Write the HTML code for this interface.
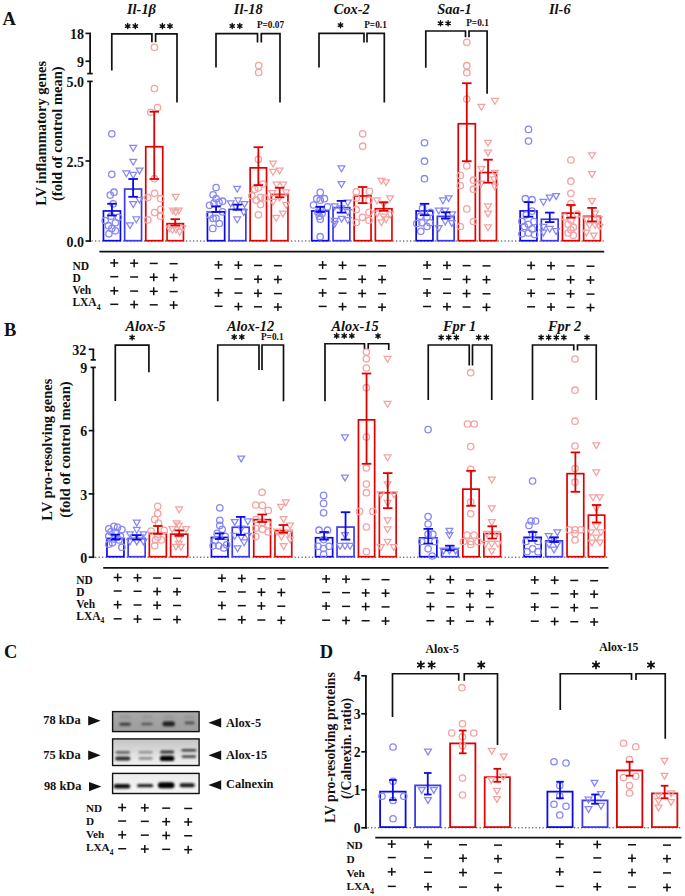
<!DOCTYPE html>
<html><head><meta charset="utf-8"><style>
html,body{margin:0;padding:0;background:#fff;}
body{width:685px;height:896px;overflow:hidden;}
svg{display:block;}
</style></head><body>
<svg width="685" height="896" viewBox="0 0 685 896">
<rect width="685" height="896" fill="#fff"/>
<text x="2.6" y="24.6" font-family='"Liberation Serif", serif' font-size="18.5" font-weight="bold" font-style="normal" text-anchor="start" fill="#111" >A</text>
<line x1="90.1" y1="81.4" x2="90.1" y2="241.85" stroke="#111" stroke-width="1.8" />
<line x1="90.1" y1="33.4" x2="90.1" y2="73.6" stroke="#111" stroke-width="1.8" />
<line x1="85.5" y1="241" x2="91" y2="241" stroke="#111" stroke-width="1.7" />
<line x1="85.5" y1="161" x2="91" y2="161" stroke="#111" stroke-width="1.7" />
<line x1="85.5" y1="33.4" x2="91" y2="33.4" stroke="#111" stroke-width="1.7" />
<line x1="85.5" y1="61.25" x2="91" y2="61.25" stroke="#111" stroke-width="1.7" />
<line x1="87.2" y1="73.6" x2="92.7" y2="73.6" stroke="#111" stroke-width="1.7" />
<line x1="87.2" y1="81.4" x2="92.7" y2="81.4" stroke="#111" stroke-width="1.7" />
<text x="84" y="246.79" font-family='"Liberation Serif", serif' font-size="14" font-weight="bold" font-style="normal" text-anchor="end" fill="#111" >0.0</text>
<text x="84" y="166.79" font-family='"Liberation Serif", serif' font-size="14" font-weight="bold" font-style="normal" text-anchor="end" fill="#111" >2.5</text>
<text x="84" y="87.19" font-family='"Liberation Serif", serif' font-size="14" font-weight="bold" font-style="normal" text-anchor="end" fill="#111" >5.0</text>
<text x="84" y="67.04" font-family='"Liberation Serif", serif' font-size="14" font-weight="bold" font-style="normal" text-anchor="end" fill="#111" >9</text>
<text x="84" y="39.19" font-family='"Liberation Serif", serif' font-size="14" font-weight="bold" font-style="normal" text-anchor="end" fill="#111" >18</text>
<text transform="translate(41,133.3) rotate(-90)" x="0" y="4.79" font-family='"Liberation Serif", serif' font-size="14.5" font-weight="bold" text-anchor="middle" fill="#111">LV inflammatory genes</text>
<text transform="translate(57.7,133.7) rotate(-90)" x="0" y="4.79" font-family='"Liberation Serif", serif' font-size="14.5" font-weight="bold" text-anchor="middle" fill="#111">(fold of control mean)</text>
<line x1="91.5" y1="241" x2="604" y2="241" stroke="#333" stroke-width="1.0" stroke-dasharray="1.3 2.2"/>
<line x1="99.4" y1="251.7" x2="604.2" y2="251.7" stroke="#111" stroke-width="1.8" />
<rect x="103.45" y="210.95" width="17" height="29.75" fill="none" stroke="#0a0ae6" stroke-width="1.7"/>
<rect x="124.65" y="189.05" width="16.9" height="51.65" fill="none" stroke="#3c3cee" stroke-width="1.7"/>
<rect x="145.75" y="146.75" width="17" height="93.95" fill="none" stroke="#e00000" stroke-width="1.7"/>
<rect x="167.05" y="223.65" width="16.4" height="17.05" fill="none" stroke="#e10a0a" stroke-width="1.7"/>
<circle cx="111.8" cy="133.8" r="3.2" stroke="#8787f5" stroke-width="1.3" fill="none"/>
<circle cx="111.8" cy="174.3" r="3.2" stroke="#8787f5" stroke-width="1.3" fill="none"/>
<circle cx="114" cy="192.2" r="3.2" stroke="#8787f5" stroke-width="1.3" fill="none"/>
<circle cx="110.3" cy="195.1" r="3.2" stroke="#8787f5" stroke-width="1.3" fill="none"/>
<circle cx="113.2" cy="203.8" r="3.2" stroke="#8787f5" stroke-width="1.3" fill="none"/>
<circle cx="105.2" cy="220.6" r="3.2" stroke="#8787f5" stroke-width="1.3" fill="none"/>
<circle cx="118.4" cy="217.3" r="3.2" stroke="#8787f5" stroke-width="1.3" fill="none"/>
<circle cx="111.1" cy="216.2" r="3.2" stroke="#8787f5" stroke-width="1.3" fill="none"/>
<circle cx="115.4" cy="222.8" r="3.2" stroke="#8787f5" stroke-width="1.3" fill="none"/>
<circle cx="108.4" cy="225.7" r="3.2" stroke="#8787f5" stroke-width="1.3" fill="none"/>
<circle cx="111.8" cy="228.6" r="3.2" stroke="#8787f5" stroke-width="1.3" fill="none"/>
<circle cx="115.4" cy="230.8" r="3.2" stroke="#8787f5" stroke-width="1.3" fill="none"/>
<circle cx="108.9" cy="233.8" r="3.2" stroke="#8787f5" stroke-width="1.3" fill="none"/>
<path d="M129.8 145.48H136.6L133.2 151.32Z" stroke="#8787f5" stroke-width="1.25" fill="none" stroke-linejoin="miter"/>
<path d="M129.8 159.28H136.6L133.2 165.12Z" stroke="#8787f5" stroke-width="1.25" fill="none" stroke-linejoin="miter"/>
<path d="M123 170.98H129.8L126.4 176.82Z" stroke="#8787f5" stroke-width="1.25" fill="none" stroke-linejoin="miter"/>
<path d="M129.8 172.48H136.6L133.2 178.32Z" stroke="#8787f5" stroke-width="1.25" fill="none" stroke-linejoin="miter"/>
<path d="M136.1 168.08H142.9L139.5 173.92Z" stroke="#8787f5" stroke-width="1.25" fill="none" stroke-linejoin="miter"/>
<path d="M136.1 197.28H142.9L139.5 203.12Z" stroke="#8787f5" stroke-width="1.25" fill="none" stroke-linejoin="miter"/>
<path d="M129.8 201.68H136.6L133.2 207.52Z" stroke="#8787f5" stroke-width="1.25" fill="none" stroke-linejoin="miter"/>
<path d="M132.9 216.98H139.7L136.3 222.82Z" stroke="#8787f5" stroke-width="1.25" fill="none" stroke-linejoin="miter"/>
<path d="M126.6 222.78H133.4L130 228.62Z" stroke="#8787f5" stroke-width="1.25" fill="none" stroke-linejoin="miter"/>
<circle cx="154.4" cy="47.3" r="3.2" stroke="#f4a2a2" stroke-width="1.3" fill="none"/>
<circle cx="154.4" cy="88.6" r="3.2" stroke="#f4a2a2" stroke-width="1.3" fill="none"/>
<circle cx="157.5" cy="107.6" r="3.2" stroke="#f4a2a2" stroke-width="1.3" fill="none"/>
<circle cx="150.8" cy="112.3" r="3.2" stroke="#f4a2a2" stroke-width="1.3" fill="none"/>
<circle cx="154.4" cy="178.7" r="3.2" stroke="#f4a2a2" stroke-width="1.3" fill="none"/>
<circle cx="154.6" cy="193.3" r="3.2" stroke="#f4a2a2" stroke-width="1.3" fill="none"/>
<circle cx="147.8" cy="197.6" r="3.2" stroke="#f4a2a2" stroke-width="1.3" fill="none"/>
<circle cx="160.7" cy="198.7" r="3.2" stroke="#f4a2a2" stroke-width="1.3" fill="none"/>
<circle cx="160.7" cy="209.4" r="3.2" stroke="#f4a2a2" stroke-width="1.3" fill="none"/>
<circle cx="154.6" cy="212.6" r="3.2" stroke="#f4a2a2" stroke-width="1.3" fill="none"/>
<circle cx="160.7" cy="216.2" r="3.2" stroke="#f4a2a2" stroke-width="1.3" fill="none"/>
<circle cx="147.8" cy="219.9" r="3.2" stroke="#f4a2a2" stroke-width="1.3" fill="none"/>
<path d="M172.3 194.38H179.1L175.7 200.22Z" stroke="#f4a2a2" stroke-width="1.25" fill="none" stroke-linejoin="miter"/>
<path d="M169.4 208.18H176.2L172.8 214.02Z" stroke="#f4a2a2" stroke-width="1.25" fill="none" stroke-linejoin="miter"/>
<path d="M175.5 208.18H182.3L178.9 214.02Z" stroke="#f4a2a2" stroke-width="1.25" fill="none" stroke-linejoin="miter"/>
<path d="M172.3 209.68H179.1L175.7 215.52Z" stroke="#f4a2a2" stroke-width="1.25" fill="none" stroke-linejoin="miter"/>
<path d="M166.1 225.98H172.9L169.5 231.82Z" stroke="#f4a2a2" stroke-width="1.25" fill="none" stroke-linejoin="miter"/>
<path d="M172.6 227.18H179.4L176 233.02Z" stroke="#f4a2a2" stroke-width="1.25" fill="none" stroke-linejoin="miter"/>
<path d="M178.9 225.98H185.7L182.3 231.82Z" stroke="#f4a2a2" stroke-width="1.25" fill="none" stroke-linejoin="miter"/>
<path d="M169 227.48H175.8L172.4 233.32Z" stroke="#f4a2a2" stroke-width="1.25" fill="none" stroke-linejoin="miter"/>
<path d="M176.3 229.38H183.1L179.7 235.22Z" stroke="#f4a2a2" stroke-width="1.25" fill="none" stroke-linejoin="miter"/>
<line x1="111.95" y1="203.8" x2="111.95" y2="215.5" stroke="#0a0ae6" stroke-width="1.8" />
<line x1="107.2" y1="203.8" x2="116.7" y2="203.8" stroke="#0a0ae6" stroke-width="1.8" />
<line x1="107.2" y1="215.5" x2="116.7" y2="215.5" stroke="#0a0ae6" stroke-width="1.8" />
<line x1="133.1" y1="179" x2="133.1" y2="196.8" stroke="#0a0ae6" stroke-width="1.8" />
<line x1="128.35" y1="179" x2="137.85" y2="179" stroke="#0a0ae6" stroke-width="1.8" />
<line x1="128.35" y1="196.8" x2="137.85" y2="196.8" stroke="#0a0ae6" stroke-width="1.8" />
<line x1="154.25" y1="111.7" x2="154.25" y2="179" stroke="#e00000" stroke-width="1.8" />
<line x1="149.5" y1="111.7" x2="159" y2="111.7" stroke="#e00000" stroke-width="1.8" />
<line x1="149.5" y1="179" x2="159" y2="179" stroke="#e00000" stroke-width="1.8" />
<line x1="175.25" y1="219.2" x2="175.25" y2="225.4" stroke="#e00000" stroke-width="1.8" />
<line x1="170.5" y1="219.2" x2="180" y2="219.2" stroke="#e00000" stroke-width="1.8" />
<line x1="170.5" y1="225.4" x2="180" y2="225.4" stroke="#e00000" stroke-width="1.8" />
<text x="141.5" y="14.35" font-family='"Liberation Serif", serif' font-size="14.4" font-weight="bold" font-style="italic" text-anchor="middle" fill="#111" >Il-1β</text>
<rect x="207.45" y="211.85" width="17.2" height="28.85" fill="none" stroke="#0a0ae6" stroke-width="1.7"/>
<rect x="229.05" y="209.35" width="16.8" height="31.35" fill="none" stroke="#3c3cee" stroke-width="1.7"/>
<rect x="250.15" y="167.85" width="16.4" height="72.85" fill="none" stroke="#e00000" stroke-width="1.7"/>
<rect x="271.35" y="194.45" width="16.6" height="46.25" fill="none" stroke="#e10a0a" stroke-width="1.7"/>
<circle cx="216.1" cy="187.5" r="3.2" stroke="#8787f5" stroke-width="1.3" fill="none"/>
<circle cx="213.1" cy="194.8" r="3.2" stroke="#8787f5" stroke-width="1.3" fill="none"/>
<circle cx="216.1" cy="198.7" r="3.2" stroke="#8787f5" stroke-width="1.3" fill="none"/>
<circle cx="222.6" cy="201.2" r="3.2" stroke="#8787f5" stroke-width="1.3" fill="none"/>
<circle cx="219" cy="202.4" r="3.2" stroke="#8787f5" stroke-width="1.3" fill="none"/>
<circle cx="209.5" cy="205.3" r="3.2" stroke="#8787f5" stroke-width="1.3" fill="none"/>
<circle cx="213.9" cy="203.1" r="3.2" stroke="#8787f5" stroke-width="1.3" fill="none"/>
<circle cx="222.6" cy="211.9" r="3.2" stroke="#8787f5" stroke-width="1.3" fill="none"/>
<circle cx="209.5" cy="214.8" r="3.2" stroke="#8787f5" stroke-width="1.3" fill="none"/>
<circle cx="216.1" cy="218.4" r="3.2" stroke="#8787f5" stroke-width="1.3" fill="none"/>
<circle cx="213.1" cy="218.4" r="3.2" stroke="#8787f5" stroke-width="1.3" fill="none"/>
<circle cx="219.3" cy="223.5" r="3.2" stroke="#8787f5" stroke-width="1.3" fill="none"/>
<circle cx="212.8" cy="228.4" r="3.2" stroke="#8787f5" stroke-width="1.3" fill="none"/>
<path d="M233.8 186.28H240.6L237.2 192.12Z" stroke="#8787f5" stroke-width="1.25" fill="none" stroke-linejoin="miter"/>
<path d="M227.3 200.88H234.1L230.7 206.72Z" stroke="#8787f5" stroke-width="1.25" fill="none" stroke-linejoin="miter"/>
<path d="M234.8 197.98H241.6L238.2 203.82Z" stroke="#8787f5" stroke-width="1.25" fill="none" stroke-linejoin="miter"/>
<path d="M241.1 201.68H247.9L244.5 207.52Z" stroke="#8787f5" stroke-width="1.25" fill="none" stroke-linejoin="miter"/>
<path d="M232.4 204.58H239.2L235.8 210.42Z" stroke="#8787f5" stroke-width="1.25" fill="none" stroke-linejoin="miter"/>
<path d="M240.4 209.68H247.2L243.8 215.52Z" stroke="#8787f5" stroke-width="1.25" fill="none" stroke-linejoin="miter"/>
<path d="M233.8 216.98H240.6L237.2 222.82Z" stroke="#8787f5" stroke-width="1.25" fill="none" stroke-linejoin="miter"/>
<circle cx="258.7" cy="65.6" r="3.2" stroke="#f4a2a2" stroke-width="1.3" fill="none"/>
<circle cx="258.7" cy="72.4" r="3.2" stroke="#f4a2a2" stroke-width="1.3" fill="none"/>
<circle cx="258.4" cy="159.3" r="3.2" stroke="#f4a2a2" stroke-width="1.3" fill="none"/>
<circle cx="262.8" cy="184.1" r="3.2" stroke="#f4a2a2" stroke-width="1.3" fill="none"/>
<circle cx="254.7" cy="189.2" r="3.2" stroke="#f4a2a2" stroke-width="1.3" fill="none"/>
<circle cx="258.4" cy="187.8" r="3.2" stroke="#f4a2a2" stroke-width="1.3" fill="none"/>
<circle cx="251.8" cy="195.8" r="3.2" stroke="#f4a2a2" stroke-width="1.3" fill="none"/>
<circle cx="265" cy="198" r="3.2" stroke="#f4a2a2" stroke-width="1.3" fill="none"/>
<circle cx="260.6" cy="197.3" r="3.2" stroke="#f4a2a2" stroke-width="1.3" fill="none"/>
<circle cx="256.2" cy="200.2" r="3.2" stroke="#f4a2a2" stroke-width="1.3" fill="none"/>
<circle cx="260.6" cy="204.6" r="3.2" stroke="#f4a2a2" stroke-width="1.3" fill="none"/>
<circle cx="258.4" cy="214.8" r="3.2" stroke="#f4a2a2" stroke-width="1.3" fill="none"/>
<path d="M269.6 161.18H276.4L273 167.02Z" stroke="#f4a2a2" stroke-width="1.25" fill="none" stroke-linejoin="miter"/>
<path d="M269.6 169.48H276.4L273 175.32Z" stroke="#f4a2a2" stroke-width="1.25" fill="none" stroke-linejoin="miter"/>
<path d="M276.2 168.08H283L279.6 173.92Z" stroke="#f4a2a2" stroke-width="1.25" fill="none" stroke-linejoin="miter"/>
<path d="M273.2 182.18H280L276.6 188.02Z" stroke="#f4a2a2" stroke-width="1.25" fill="none" stroke-linejoin="miter"/>
<path d="M279.8 182.18H286.6L283.2 188.02Z" stroke="#f4a2a2" stroke-width="1.25" fill="none" stroke-linejoin="miter"/>
<path d="M268.9 190.68H275.7L272.3 196.52Z" stroke="#f4a2a2" stroke-width="1.25" fill="none" stroke-linejoin="miter"/>
<path d="M282.7 189.98H289.5L286.1 195.82Z" stroke="#f4a2a2" stroke-width="1.25" fill="none" stroke-linejoin="miter"/>
<path d="M276.2 195.08H283L279.6 200.92Z" stroke="#f4a2a2" stroke-width="1.25" fill="none" stroke-linejoin="miter"/>
<path d="M269.6 199.48H276.4L273 205.32Z" stroke="#f4a2a2" stroke-width="1.25" fill="none" stroke-linejoin="miter"/>
<path d="M282.7 202.38H289.5L286.1 208.22Z" stroke="#f4a2a2" stroke-width="1.25" fill="none" stroke-linejoin="miter"/>
<path d="M279.5 211.08H286.3L282.9 216.92Z" stroke="#f4a2a2" stroke-width="1.25" fill="none" stroke-linejoin="miter"/>
<path d="M272.8 215.48H279.6L276.2 221.32Z" stroke="#f4a2a2" stroke-width="1.25" fill="none" stroke-linejoin="miter"/>
<line x1="216.05" y1="206.5" x2="216.05" y2="211.9" stroke="#0a0ae6" stroke-width="1.8" />
<line x1="211.3" y1="206.5" x2="220.8" y2="206.5" stroke="#0a0ae6" stroke-width="1.8" />
<line x1="211.3" y1="211.9" x2="220.8" y2="211.9" stroke="#0a0ae6" stroke-width="1.8" />
<line x1="237.45" y1="204.6" x2="237.45" y2="209.7" stroke="#0a0ae6" stroke-width="1.8" />
<line x1="232.7" y1="204.6" x2="242.2" y2="204.6" stroke="#0a0ae6" stroke-width="1.8" />
<line x1="232.7" y1="209.7" x2="242.2" y2="209.7" stroke="#0a0ae6" stroke-width="1.8" />
<line x1="258.35" y1="147.2" x2="258.35" y2="185.1" stroke="#e00000" stroke-width="1.8" />
<line x1="253.6" y1="147.2" x2="263.1" y2="147.2" stroke="#e00000" stroke-width="1.8" />
<line x1="253.6" y1="185.1" x2="263.1" y2="185.1" stroke="#e00000" stroke-width="1.8" />
<line x1="279.65" y1="187.8" x2="279.65" y2="197.3" stroke="#e00000" stroke-width="1.8" />
<line x1="274.9" y1="187.8" x2="284.4" y2="187.8" stroke="#e00000" stroke-width="1.8" />
<line x1="274.9" y1="197.3" x2="284.4" y2="197.3" stroke="#e00000" stroke-width="1.8" />
<text x="248.2" y="14.35" font-family='"Liberation Serif", serif' font-size="14.4" font-weight="bold" font-style="italic" text-anchor="middle" fill="#111" >Il-18</text>
<rect x="311.75" y="210.95" width="16.9" height="29.75" fill="none" stroke="#0a0ae6" stroke-width="1.7"/>
<rect x="333.05" y="207.65" width="16.8" height="33.05" fill="none" stroke="#3c3cee" stroke-width="1.7"/>
<rect x="354.15" y="195.95" width="16.9" height="44.75" fill="none" stroke="#e00000" stroke-width="1.7"/>
<rect x="375.35" y="208.75" width="16.6" height="31.95" fill="none" stroke="#e10a0a" stroke-width="1.7"/>
<circle cx="320.2" cy="192.4" r="3.2" stroke="#8787f5" stroke-width="1.3" fill="none"/>
<circle cx="316.8" cy="198.7" r="3.2" stroke="#8787f5" stroke-width="1.3" fill="none"/>
<circle cx="324.4" cy="198.7" r="3.2" stroke="#8787f5" stroke-width="1.3" fill="none"/>
<circle cx="320.2" cy="200.2" r="3.2" stroke="#8787f5" stroke-width="1.3" fill="none"/>
<circle cx="313.5" cy="205" r="3.2" stroke="#8787f5" stroke-width="1.3" fill="none"/>
<circle cx="327.4" cy="206.8" r="3.2" stroke="#8787f5" stroke-width="1.3" fill="none"/>
<circle cx="320.2" cy="209.7" r="3.2" stroke="#8787f5" stroke-width="1.3" fill="none"/>
<circle cx="317.9" cy="212.3" r="3.2" stroke="#8787f5" stroke-width="1.3" fill="none"/>
<circle cx="322.2" cy="213.3" r="3.2" stroke="#8787f5" stroke-width="1.3" fill="none"/>
<circle cx="319.3" cy="216.2" r="3.2" stroke="#8787f5" stroke-width="1.3" fill="none"/>
<circle cx="320.2" cy="219.2" r="3.2" stroke="#8787f5" stroke-width="1.3" fill="none"/>
<circle cx="320.2" cy="236.7" r="3.2" stroke="#8787f5" stroke-width="1.3" fill="none"/>
<path d="M338.1 165.88H344.9L341.5 171.72Z" stroke="#8787f5" stroke-width="1.25" fill="none" stroke-linejoin="miter"/>
<path d="M338.1 181.68H344.9L341.5 187.52Z" stroke="#8787f5" stroke-width="1.25" fill="none" stroke-linejoin="miter"/>
<path d="M331.3 203.88H338.1L334.7 209.72Z" stroke="#8787f5" stroke-width="1.25" fill="none" stroke-linejoin="miter"/>
<path d="M344.4 200.18H351.2L347.8 206.02Z" stroke="#8787f5" stroke-width="1.25" fill="none" stroke-linejoin="miter"/>
<path d="M337.8 205.98H344.6L341.2 211.82Z" stroke="#8787f5" stroke-width="1.25" fill="none" stroke-linejoin="miter"/>
<path d="M344.4 209.68H351.2L347.8 215.52Z" stroke="#8787f5" stroke-width="1.25" fill="none" stroke-linejoin="miter"/>
<path d="M331.3 218.48H338.1L334.7 224.32Z" stroke="#8787f5" stroke-width="1.25" fill="none" stroke-linejoin="miter"/>
<path d="M338.3 216.28H345.1L341.7 222.12Z" stroke="#8787f5" stroke-width="1.25" fill="none" stroke-linejoin="miter"/>
<path d="M344.4 217.68H351.2L347.8 223.52Z" stroke="#8787f5" stroke-width="1.25" fill="none" stroke-linejoin="miter"/>
<path d="M331.3 221.38H338.1L334.7 227.22Z" stroke="#8787f5" stroke-width="1.25" fill="none" stroke-linejoin="miter"/>
<circle cx="362.7" cy="133.8" r="3.2" stroke="#f4a2a2" stroke-width="1.3" fill="none"/>
<circle cx="362.7" cy="146.2" r="3.2" stroke="#f4a2a2" stroke-width="1.3" fill="none"/>
<circle cx="356.3" cy="191.9" r="3.2" stroke="#f4a2a2" stroke-width="1.3" fill="none"/>
<circle cx="369.4" cy="191.4" r="3.2" stroke="#f4a2a2" stroke-width="1.3" fill="none"/>
<circle cx="356.3" cy="198" r="3.2" stroke="#f4a2a2" stroke-width="1.3" fill="none"/>
<circle cx="369" cy="200.2" r="3.2" stroke="#f4a2a2" stroke-width="1.3" fill="none"/>
<circle cx="356.3" cy="209.7" r="3.2" stroke="#f4a2a2" stroke-width="1.3" fill="none"/>
<circle cx="369" cy="212.3" r="3.2" stroke="#f4a2a2" stroke-width="1.3" fill="none"/>
<circle cx="362.4" cy="217.3" r="3.2" stroke="#f4a2a2" stroke-width="1.3" fill="none"/>
<circle cx="369" cy="220.2" r="3.2" stroke="#f4a2a2" stroke-width="1.3" fill="none"/>
<circle cx="356.3" cy="222.5" r="3.2" stroke="#f4a2a2" stroke-width="1.3" fill="none"/>
<path d="M378 178.28H384.8L381.4 184.12Z" stroke="#f4a2a2" stroke-width="1.25" fill="none" stroke-linejoin="miter"/>
<path d="M382.6 179.78H389.4L386 185.62Z" stroke="#f4a2a2" stroke-width="1.25" fill="none" stroke-linejoin="miter"/>
<path d="M386.7 195.78H393.5L390.1 201.62Z" stroke="#f4a2a2" stroke-width="1.25" fill="none" stroke-linejoin="miter"/>
<path d="M373.6 197.98H380.4L377 203.82Z" stroke="#f4a2a2" stroke-width="1.25" fill="none" stroke-linejoin="miter"/>
<path d="M380.2 201.68H387L383.6 207.52Z" stroke="#f4a2a2" stroke-width="1.25" fill="none" stroke-linejoin="miter"/>
<path d="M373.6 211.08H380.4L377 216.92Z" stroke="#f4a2a2" stroke-width="1.25" fill="none" stroke-linejoin="miter"/>
<path d="M386.7 211.88H393.5L390.1 217.72Z" stroke="#f4a2a2" stroke-width="1.25" fill="none" stroke-linejoin="miter"/>
<path d="M380.2 214.08H387L383.6 219.92Z" stroke="#f4a2a2" stroke-width="1.25" fill="none" stroke-linejoin="miter"/>
<path d="M378 219.88H384.8L381.4 225.72Z" stroke="#f4a2a2" stroke-width="1.25" fill="none" stroke-linejoin="miter"/>
<path d="M382.6 216.98H389.4L386 222.82Z" stroke="#f4a2a2" stroke-width="1.25" fill="none" stroke-linejoin="miter"/>
<line x1="320.2" y1="206.8" x2="320.2" y2="211.9" stroke="#0a0ae6" stroke-width="1.8" />
<line x1="315.45" y1="206.8" x2="324.95" y2="206.8" stroke="#0a0ae6" stroke-width="1.8" />
<line x1="315.45" y1="211.9" x2="324.95" y2="211.9" stroke="#0a0ae6" stroke-width="1.8" />
<line x1="341.45" y1="200.9" x2="341.45" y2="212.6" stroke="#0a0ae6" stroke-width="1.8" />
<line x1="336.7" y1="200.9" x2="346.2" y2="200.9" stroke="#0a0ae6" stroke-width="1.8" />
<line x1="336.7" y1="212.6" x2="346.2" y2="212.6" stroke="#0a0ae6" stroke-width="1.8" />
<line x1="362.6" y1="187" x2="362.6" y2="203.1" stroke="#e00000" stroke-width="1.8" />
<line x1="357.85" y1="187" x2="367.35" y2="187" stroke="#e00000" stroke-width="1.8" />
<line x1="357.85" y1="203.1" x2="367.35" y2="203.1" stroke="#e00000" stroke-width="1.8" />
<line x1="383.65" y1="202.4" x2="383.65" y2="210.8" stroke="#e00000" stroke-width="1.8" />
<line x1="378.9" y1="202.4" x2="388.4" y2="202.4" stroke="#e00000" stroke-width="1.8" />
<line x1="378.9" y1="210.8" x2="388.4" y2="210.8" stroke="#e00000" stroke-width="1.8" />
<text x="351.8" y="14.35" font-family='"Liberation Serif", serif' font-size="14.4" font-weight="bold" font-style="italic" text-anchor="middle" fill="#111" >Cox-2</text>
<rect x="416.15" y="210.95" width="16.8" height="29.75" fill="none" stroke="#0a0ae6" stroke-width="1.7"/>
<rect x="437.35" y="216.35" width="16.8" height="24.35" fill="none" stroke="#3c3cee" stroke-width="1.7"/>
<rect x="458.25" y="123.75" width="17.1" height="116.95" fill="none" stroke="#e00000" stroke-width="1.7"/>
<rect x="479.65" y="172.55" width="16.8" height="68.15" fill="none" stroke="#e10a0a" stroke-width="1.7"/>
<circle cx="424.5" cy="142.8" r="3.2" stroke="#8787f5" stroke-width="1.3" fill="none"/>
<circle cx="424.5" cy="161.2" r="3.2" stroke="#8787f5" stroke-width="1.3" fill="none"/>
<circle cx="424.5" cy="178.7" r="3.2" stroke="#8787f5" stroke-width="1.3" fill="none"/>
<circle cx="422.6" cy="208.2" r="3.2" stroke="#8787f5" stroke-width="1.3" fill="none"/>
<circle cx="430.6" cy="212.3" r="3.2" stroke="#8787f5" stroke-width="1.3" fill="none"/>
<circle cx="420.4" cy="216.2" r="3.2" stroke="#8787f5" stroke-width="1.3" fill="none"/>
<circle cx="427" cy="217" r="3.2" stroke="#8787f5" stroke-width="1.3" fill="none"/>
<circle cx="416.8" cy="223.5" r="3.2" stroke="#8787f5" stroke-width="1.3" fill="none"/>
<circle cx="421.9" cy="222.8" r="3.2" stroke="#8787f5" stroke-width="1.3" fill="none"/>
<circle cx="429.9" cy="222.8" r="3.2" stroke="#8787f5" stroke-width="1.3" fill="none"/>
<circle cx="427" cy="226.5" r="3.2" stroke="#8787f5" stroke-width="1.3" fill="none"/>
<circle cx="420.8" cy="231.3" r="3.2" stroke="#8787f5" stroke-width="1.3" fill="none"/>
<path d="M439.6 197.98H446.4L443 203.82Z" stroke="#8787f5" stroke-width="1.25" fill="none" stroke-linejoin="miter"/>
<path d="M445.2 195.78H452L448.6 201.62Z" stroke="#8787f5" stroke-width="1.25" fill="none" stroke-linejoin="miter"/>
<path d="M435.3 208.18H442.1L438.7 214.02Z" stroke="#8787f5" stroke-width="1.25" fill="none" stroke-linejoin="miter"/>
<path d="M441.8 208.18H448.6L445.2 214.02Z" stroke="#8787f5" stroke-width="1.25" fill="none" stroke-linejoin="miter"/>
<path d="M448.7 211.88H455.5L452.1 217.72Z" stroke="#8787f5" stroke-width="1.25" fill="none" stroke-linejoin="miter"/>
<path d="M441.8 219.18H448.6L445.2 225.02Z" stroke="#8787f5" stroke-width="1.25" fill="none" stroke-linejoin="miter"/>
<path d="M448.4 220.58H455.2L451.8 226.42Z" stroke="#8787f5" stroke-width="1.25" fill="none" stroke-linejoin="miter"/>
<path d="M435.3 225.68H442.1L438.7 231.52Z" stroke="#8787f5" stroke-width="1.25" fill="none" stroke-linejoin="miter"/>
<circle cx="466.8" cy="42.3" r="3.2" stroke="#f4a2a2" stroke-width="1.3" fill="none"/>
<circle cx="466.8" cy="65.7" r="3.2" stroke="#f4a2a2" stroke-width="1.3" fill="none"/>
<circle cx="466.8" cy="72.7" r="3.2" stroke="#f4a2a2" stroke-width="1.3" fill="none"/>
<circle cx="466.8" cy="99" r="3.2" stroke="#f4a2a2" stroke-width="1.3" fill="none"/>
<circle cx="466.8" cy="165.9" r="3.2" stroke="#f4a2a2" stroke-width="1.3" fill="none"/>
<circle cx="460.3" cy="175.4" r="3.2" stroke="#f4a2a2" stroke-width="1.3" fill="none"/>
<circle cx="473.4" cy="180.2" r="3.2" stroke="#f4a2a2" stroke-width="1.3" fill="none"/>
<circle cx="460.3" cy="185.6" r="3.2" stroke="#f4a2a2" stroke-width="1.3" fill="none"/>
<circle cx="473.4" cy="189.2" r="3.2" stroke="#f4a2a2" stroke-width="1.3" fill="none"/>
<circle cx="466.8" cy="208.9" r="3.2" stroke="#f4a2a2" stroke-width="1.3" fill="none"/>
<circle cx="473.4" cy="221.6" r="3.2" stroke="#f4a2a2" stroke-width="1.3" fill="none"/>
<circle cx="460.3" cy="226.5" r="3.2" stroke="#f4a2a2" stroke-width="1.3" fill="none"/>
<path d="M491.5 98.48H498.3L494.9 104.32Z" stroke="#f4a2a2" stroke-width="1.25" fill="none" stroke-linejoin="miter"/>
<path d="M478 104.38H484.8L481.4 110.22Z" stroke="#f4a2a2" stroke-width="1.25" fill="none" stroke-linejoin="miter"/>
<path d="M484.6 140.28H491.4L488 146.12Z" stroke="#f4a2a2" stroke-width="1.25" fill="none" stroke-linejoin="miter"/>
<path d="M484.6 150.08H491.4L488 155.92Z" stroke="#f4a2a2" stroke-width="1.25" fill="none" stroke-linejoin="miter"/>
<path d="M478 166.58H484.8L481.4 172.42Z" stroke="#f4a2a2" stroke-width="1.25" fill="none" stroke-linejoin="miter"/>
<path d="M491.5 170.28H498.3L494.9 176.12Z" stroke="#f4a2a2" stroke-width="1.25" fill="none" stroke-linejoin="miter"/>
<path d="M490.7 176.78H497.5L494.1 182.62Z" stroke="#f4a2a2" stroke-width="1.25" fill="none" stroke-linejoin="miter"/>
<path d="M477.6 181.18H484.4L481 187.02Z" stroke="#f4a2a2" stroke-width="1.25" fill="none" stroke-linejoin="miter"/>
<path d="M491.5 184.08H498.3L494.9 189.92Z" stroke="#f4a2a2" stroke-width="1.25" fill="none" stroke-linejoin="miter"/>
<path d="M484.6 203.88H491.4L488 209.72Z" stroke="#f4a2a2" stroke-width="1.25" fill="none" stroke-linejoin="miter"/>
<path d="M484.6 211.08H491.4L488 216.92Z" stroke="#f4a2a2" stroke-width="1.25" fill="none" stroke-linejoin="miter"/>
<path d="M484.6 224.98H491.4L488 230.82Z" stroke="#f4a2a2" stroke-width="1.25" fill="none" stroke-linejoin="miter"/>
<line x1="424.55" y1="203.8" x2="424.55" y2="215.2" stroke="#0a0ae6" stroke-width="1.8" />
<line x1="419.8" y1="203.8" x2="429.3" y2="203.8" stroke="#0a0ae6" stroke-width="1.8" />
<line x1="419.8" y1="215.2" x2="429.3" y2="215.2" stroke="#0a0ae6" stroke-width="1.8" />
<line x1="445.75" y1="212.3" x2="445.75" y2="218.4" stroke="#0a0ae6" stroke-width="1.8" />
<line x1="441" y1="212.3" x2="450.5" y2="212.3" stroke="#0a0ae6" stroke-width="1.8" />
<line x1="441" y1="218.4" x2="450.5" y2="218.4" stroke="#0a0ae6" stroke-width="1.8" />
<line x1="466.8" y1="83.2" x2="466.8" y2="161.2" stroke="#e00000" stroke-width="1.8" />
<line x1="462.05" y1="83.2" x2="471.55" y2="83.2" stroke="#e00000" stroke-width="1.8" />
<line x1="462.05" y1="161.2" x2="471.55" y2="161.2" stroke="#e00000" stroke-width="1.8" />
<line x1="488.05" y1="159.7" x2="488.05" y2="182.7" stroke="#e00000" stroke-width="1.8" />
<line x1="483.3" y1="159.7" x2="492.8" y2="159.7" stroke="#e00000" stroke-width="1.8" />
<line x1="483.3" y1="182.7" x2="492.8" y2="182.7" stroke="#e00000" stroke-width="1.8" />
<text x="454.5" y="14.35" font-family='"Liberation Serif", serif' font-size="14.4" font-weight="bold" font-style="italic" text-anchor="middle" fill="#111" >Saa-1</text>
<rect x="520.15" y="210.95" width="16.8" height="29.75" fill="none" stroke="#0a0ae6" stroke-width="1.7"/>
<rect x="541.35" y="219.25" width="16.8" height="21.45" fill="none" stroke="#3c3cee" stroke-width="1.7"/>
<rect x="562.45" y="213.15" width="16.9" height="27.55" fill="none" stroke="#e00000" stroke-width="1.7"/>
<rect x="583.65" y="216.35" width="16.8" height="24.35" fill="none" stroke="#e10a0a" stroke-width="1.7"/>
<circle cx="528.5" cy="129.4" r="3.2" stroke="#8787f5" stroke-width="1.3" fill="none"/>
<circle cx="528.5" cy="141.1" r="3.2" stroke="#8787f5" stroke-width="1.3" fill="none"/>
<circle cx="525.4" cy="198.7" r="3.2" stroke="#8787f5" stroke-width="1.3" fill="none"/>
<circle cx="532.1" cy="199.7" r="3.2" stroke="#8787f5" stroke-width="1.3" fill="none"/>
<circle cx="532.1" cy="211.1" r="3.2" stroke="#8787f5" stroke-width="1.3" fill="none"/>
<circle cx="526.3" cy="214.8" r="3.2" stroke="#8787f5" stroke-width="1.3" fill="none"/>
<circle cx="521.9" cy="221.4" r="3.2" stroke="#8787f5" stroke-width="1.3" fill="none"/>
<circle cx="533.9" cy="221.6" r="3.2" stroke="#8787f5" stroke-width="1.3" fill="none"/>
<circle cx="528.4" cy="224.3" r="3.2" stroke="#8787f5" stroke-width="1.3" fill="none"/>
<circle cx="524.4" cy="226.5" r="3.2" stroke="#8787f5" stroke-width="1.3" fill="none"/>
<circle cx="532.1" cy="228.9" r="3.2" stroke="#8787f5" stroke-width="1.3" fill="none"/>
<circle cx="521.9" cy="233.8" r="3.2" stroke="#8787f5" stroke-width="1.3" fill="none"/>
<circle cx="528.4" cy="233" r="3.2" stroke="#8787f5" stroke-width="1.3" fill="none"/>
<circle cx="534.6" cy="234.5" r="3.2" stroke="#8787f5" stroke-width="1.3" fill="none"/>
<path d="M540 199.48H546.8L543.4 205.32Z" stroke="#8787f5" stroke-width="1.25" fill="none" stroke-linejoin="miter"/>
<path d="M546.3 195.08H553.1L549.7 200.92Z" stroke="#8787f5" stroke-width="1.25" fill="none" stroke-linejoin="miter"/>
<path d="M552.7 193.58H559.5L556.1 199.42Z" stroke="#8787f5" stroke-width="1.25" fill="none" stroke-linejoin="miter"/>
<path d="M540 224.28H546.8L543.4 230.12Z" stroke="#8787f5" stroke-width="1.25" fill="none" stroke-linejoin="miter"/>
<path d="M546.3 226.48H553.1L549.7 232.32Z" stroke="#8787f5" stroke-width="1.25" fill="none" stroke-linejoin="miter"/>
<path d="M552.7 228.68H559.5L556.1 234.52Z" stroke="#8787f5" stroke-width="1.25" fill="none" stroke-linejoin="miter"/>
<path d="M540 230.08H546.8L543.4 235.92Z" stroke="#8787f5" stroke-width="1.25" fill="none" stroke-linejoin="miter"/>
<circle cx="570.9" cy="160" r="3.2" stroke="#f4a2a2" stroke-width="1.3" fill="none"/>
<circle cx="570.9" cy="181.2" r="3.2" stroke="#f4a2a2" stroke-width="1.3" fill="none"/>
<circle cx="570.9" cy="193.3" r="3.2" stroke="#f4a2a2" stroke-width="1.3" fill="none"/>
<circle cx="570.9" cy="203.5" r="3.2" stroke="#f4a2a2" stroke-width="1.3" fill="none"/>
<circle cx="564.6" cy="217" r="3.2" stroke="#f4a2a2" stroke-width="1.3" fill="none"/>
<circle cx="577.4" cy="214" r="3.2" stroke="#f4a2a2" stroke-width="1.3" fill="none"/>
<circle cx="570.9" cy="219.9" r="3.2" stroke="#f4a2a2" stroke-width="1.3" fill="none"/>
<circle cx="568.2" cy="224.3" r="3.2" stroke="#f4a2a2" stroke-width="1.3" fill="none"/>
<circle cx="573.3" cy="227.2" r="3.2" stroke="#f4a2a2" stroke-width="1.3" fill="none"/>
<circle cx="568.2" cy="233" r="3.2" stroke="#f4a2a2" stroke-width="1.3" fill="none"/>
<circle cx="573.3" cy="235.2" r="3.2" stroke="#f4a2a2" stroke-width="1.3" fill="none"/>
<circle cx="570.9" cy="229.8" r="3.2" stroke="#f4a2a2" stroke-width="1.3" fill="none"/>
<path d="M588.6 152.78H595.4L592 158.62Z" stroke="#f4a2a2" stroke-width="1.25" fill="none" stroke-linejoin="miter"/>
<path d="M588.6 171.68H595.4L592 177.52Z" stroke="#f4a2a2" stroke-width="1.25" fill="none" stroke-linejoin="miter"/>
<path d="M588.6 198.68H595.4L592 204.52Z" stroke="#f4a2a2" stroke-width="1.25" fill="none" stroke-linejoin="miter"/>
<path d="M591.8 211.08H598.6L595.2 216.92Z" stroke="#f4a2a2" stroke-width="1.25" fill="none" stroke-linejoin="miter"/>
<path d="M583.1 216.98H589.9L586.5 222.82Z" stroke="#f4a2a2" stroke-width="1.25" fill="none" stroke-linejoin="miter"/>
<path d="M595.5 216.98H602.3L598.9 222.82Z" stroke="#f4a2a2" stroke-width="1.25" fill="none" stroke-linejoin="miter"/>
<path d="M586 222.78H592.8L589.4 228.62Z" stroke="#f4a2a2" stroke-width="1.25" fill="none" stroke-linejoin="miter"/>
<path d="M591.8 222.78H598.6L595.2 228.62Z" stroke="#f4a2a2" stroke-width="1.25" fill="none" stroke-linejoin="miter"/>
<path d="M583.1 230.08H589.9L586.5 235.92Z" stroke="#f4a2a2" stroke-width="1.25" fill="none" stroke-linejoin="miter"/>
<path d="M590.4 233.08H597.2L593.8 238.92Z" stroke="#f4a2a2" stroke-width="1.25" fill="none" stroke-linejoin="miter"/>
<path d="M596.2 224.28H603L599.6 230.12Z" stroke="#f4a2a2" stroke-width="1.25" fill="none" stroke-linejoin="miter"/>
<line x1="528.55" y1="202.1" x2="528.55" y2="216.7" stroke="#0a0ae6" stroke-width="1.8" />
<line x1="523.8" y1="202.1" x2="533.3" y2="202.1" stroke="#0a0ae6" stroke-width="1.8" />
<line x1="523.8" y1="216.7" x2="533.3" y2="216.7" stroke="#0a0ae6" stroke-width="1.8" />
<line x1="549.75" y1="212.6" x2="549.75" y2="222.1" stroke="#0a0ae6" stroke-width="1.8" />
<line x1="545" y1="212.6" x2="554.5" y2="212.6" stroke="#0a0ae6" stroke-width="1.8" />
<line x1="545" y1="222.1" x2="554.5" y2="222.1" stroke="#0a0ae6" stroke-width="1.8" />
<line x1="570.9" y1="205" x2="570.9" y2="217.7" stroke="#e00000" stroke-width="1.8" />
<line x1="566.15" y1="205" x2="575.65" y2="205" stroke="#e00000" stroke-width="1.8" />
<line x1="566.15" y1="217.7" x2="575.65" y2="217.7" stroke="#e00000" stroke-width="1.8" />
<line x1="592.05" y1="207.9" x2="592.05" y2="221.4" stroke="#e00000" stroke-width="1.8" />
<line x1="587.3" y1="207.9" x2="596.8" y2="207.9" stroke="#e00000" stroke-width="1.8" />
<line x1="587.3" y1="221.4" x2="596.8" y2="221.4" stroke="#e00000" stroke-width="1.8" />
<text x="559.8" y="14.35" font-family='"Liberation Serif", serif' font-size="14.4" font-weight="bold" font-style="italic" text-anchor="middle" fill="#111" >Il-6</text>
<path d="M111.8 70.4V33.9H151.9V42.2" stroke="#111" stroke-width="1.7" fill="none" stroke-linecap="butt" stroke-linejoin="miter"/>
<path d="M155.6 42.2V33.9H177V102.5" stroke="#111" stroke-width="1.7" fill="none" stroke-linecap="butt" stroke-linejoin="miter"/>
<path d="M216 67.5V33.6H257.5V42.4" stroke="#111" stroke-width="1.7" fill="none" stroke-linecap="butt" stroke-linejoin="miter"/>
<path d="M261.3 42.4V33.6H280V102.5" stroke="#111" stroke-width="1.7" fill="none" stroke-linecap="butt" stroke-linejoin="miter"/>
<path d="M319 67.5V33.3H364V42.4" stroke="#111" stroke-width="1.7" fill="none" stroke-linecap="butt" stroke-linejoin="miter"/>
<path d="M367 42.4V33.3H384.3V102.5" stroke="#111" stroke-width="1.7" fill="none" stroke-linecap="butt" stroke-linejoin="miter"/>
<path d="M425.8 67.8V31H465.5V37.2" stroke="#111" stroke-width="1.7" fill="none" stroke-linecap="butt" stroke-linejoin="miter"/>
<path d="M469 37.2V31H487.1V93.7" stroke="#111" stroke-width="1.7" fill="none" stroke-linecap="butt" stroke-linejoin="miter"/>
<path d="M127.7 28.65L127.7 23.55M125.49 27.38L129.91 24.83M125.49 24.83L129.91 27.38" stroke="#111" stroke-width="1.4" stroke-linecap="round" fill="none"/>
<circle cx="127.7" cy="26.1" r="1.15" fill="#111"/>
<path d="M135.3 28.65L135.3 23.55M133.09 27.38L137.51 24.83M133.09 24.83L137.51 27.38" stroke="#111" stroke-width="1.4" stroke-linecap="round" fill="none"/>
<circle cx="135.3" cy="26.1" r="1.15" fill="#111"/>
<path d="M162.4 28.65L162.4 23.55M160.19 27.38L164.61 24.83M160.19 24.83L164.61 27.38" stroke="#111" stroke-width="1.4" stroke-linecap="round" fill="none"/>
<circle cx="162.4" cy="26.1" r="1.15" fill="#111"/>
<path d="M170 28.65L170 23.55M167.79 27.38L172.21 24.83M167.79 24.83L172.21 27.38" stroke="#111" stroke-width="1.4" stroke-linecap="round" fill="none"/>
<circle cx="170" cy="26.1" r="1.15" fill="#111"/>
<path d="M232.2 28.55L232.2 23.45M229.99 27.27L234.41 24.73M229.99 24.73L234.41 27.27" stroke="#111" stroke-width="1.4" stroke-linecap="round" fill="none"/>
<circle cx="232.2" cy="26" r="1.15" fill="#111"/>
<path d="M239.8 28.55L239.8 23.45M237.59 27.27L242.01 24.73M237.59 24.73L242.01 27.27" stroke="#111" stroke-width="1.4" stroke-linecap="round" fill="none"/>
<circle cx="239.8" cy="26" r="1.15" fill="#111"/>
<text x="270.5" y="28.47" font-family='"Liberation Serif", serif' font-size="9.3" font-weight="bold" font-style="normal" text-anchor="middle" fill="#111" >P=0.07</text>
<path d="M340.5 27.75L340.5 22.65M338.29 26.47L342.71 23.93M338.29 23.93L342.71 26.47" stroke="#111" stroke-width="1.4" stroke-linecap="round" fill="none"/>
<circle cx="340.5" cy="25.2" r="1.15" fill="#111"/>
<text x="375.5" y="28.07" font-family='"Liberation Serif", serif' font-size="9.3" font-weight="bold" font-style="normal" text-anchor="middle" fill="#111" >P=0.1</text>
<path d="M440.5 25.85L440.5 20.75M438.29 24.57L442.71 22.03M438.29 22.03L442.71 24.57" stroke="#111" stroke-width="1.4" stroke-linecap="round" fill="none"/>
<circle cx="440.5" cy="23.3" r="1.15" fill="#111"/>
<path d="M448.1 25.85L448.1 20.75M445.89 24.57L450.31 22.03M445.89 22.03L450.31 24.57" stroke="#111" stroke-width="1.4" stroke-linecap="round" fill="none"/>
<circle cx="448.1" cy="23.3" r="1.15" fill="#111"/>
<text x="477.5" y="26.07" font-family='"Liberation Serif", serif' font-size="9.3" font-weight="bold" font-style="normal" text-anchor="middle" fill="#111" >P=0.1</text>
<line x1="110.25" y1="262.91" x2="118.25" y2="262.91" stroke="#111" stroke-width="1.5" />
<line x1="114.25" y1="258.91" x2="114.25" y2="266.91" stroke="#111" stroke-width="1.5" />
<line x1="130.15" y1="263.17" x2="138.15" y2="263.17" stroke="#111" stroke-width="1.5" />
<line x1="134.15" y1="259.17" x2="134.15" y2="267.17" stroke="#111" stroke-width="1.5" />
<line x1="149.75" y1="263.43" x2="157.75" y2="263.43" stroke="#111" stroke-width="1.5" />
<line x1="169.65" y1="263.69" x2="177.65" y2="263.69" stroke="#111" stroke-width="1.5" />
<line x1="110.25" y1="276.71" x2="118.25" y2="276.71" stroke="#111" stroke-width="1.5" />
<line x1="130.15" y1="276.97" x2="138.15" y2="276.97" stroke="#111" stroke-width="1.5" />
<line x1="149.75" y1="277.23" x2="157.75" y2="277.23" stroke="#111" stroke-width="1.5" />
<line x1="153.75" y1="273.23" x2="153.75" y2="281.23" stroke="#111" stroke-width="1.5" />
<line x1="169.65" y1="277.49" x2="177.65" y2="277.49" stroke="#111" stroke-width="1.5" />
<line x1="173.65" y1="273.49" x2="173.65" y2="281.49" stroke="#111" stroke-width="1.5" />
<line x1="110.25" y1="290.81" x2="118.25" y2="290.81" stroke="#111" stroke-width="1.5" />
<line x1="114.25" y1="286.81" x2="114.25" y2="294.81" stroke="#111" stroke-width="1.5" />
<line x1="130.15" y1="291.07" x2="138.15" y2="291.07" stroke="#111" stroke-width="1.5" />
<line x1="149.75" y1="291.33" x2="157.75" y2="291.33" stroke="#111" stroke-width="1.5" />
<line x1="153.75" y1="287.33" x2="153.75" y2="295.33" stroke="#111" stroke-width="1.5" />
<line x1="169.65" y1="291.59" x2="177.65" y2="291.59" stroke="#111" stroke-width="1.5" />
<line x1="110.25" y1="304.31" x2="118.25" y2="304.31" stroke="#111" stroke-width="1.5" />
<line x1="130.15" y1="304.57" x2="138.15" y2="304.57" stroke="#111" stroke-width="1.5" />
<line x1="134.15" y1="300.57" x2="134.15" y2="308.57" stroke="#111" stroke-width="1.5" />
<line x1="149.75" y1="304.83" x2="157.75" y2="304.83" stroke="#111" stroke-width="1.5" />
<line x1="169.65" y1="305.09" x2="177.65" y2="305.09" stroke="#111" stroke-width="1.5" />
<line x1="173.65" y1="301.09" x2="173.65" y2="309.09" stroke="#111" stroke-width="1.5" />
<line x1="214.5" y1="264.91" x2="222.5" y2="264.91" stroke="#111" stroke-width="1.5" />
<line x1="218.5" y1="260.91" x2="218.5" y2="268.91" stroke="#111" stroke-width="1.5" />
<line x1="234.4" y1="265.17" x2="242.4" y2="265.17" stroke="#111" stroke-width="1.5" />
<line x1="238.4" y1="261.17" x2="238.4" y2="269.17" stroke="#111" stroke-width="1.5" />
<line x1="254" y1="265.43" x2="262" y2="265.43" stroke="#111" stroke-width="1.5" />
<line x1="273.9" y1="265.69" x2="281.9" y2="265.69" stroke="#111" stroke-width="1.5" />
<line x1="214.5" y1="278.71" x2="222.5" y2="278.71" stroke="#111" stroke-width="1.5" />
<line x1="234.4" y1="278.97" x2="242.4" y2="278.97" stroke="#111" stroke-width="1.5" />
<line x1="254" y1="279.23" x2="262" y2="279.23" stroke="#111" stroke-width="1.5" />
<line x1="258" y1="275.23" x2="258" y2="283.23" stroke="#111" stroke-width="1.5" />
<line x1="273.9" y1="279.49" x2="281.9" y2="279.49" stroke="#111" stroke-width="1.5" />
<line x1="277.9" y1="275.49" x2="277.9" y2="283.49" stroke="#111" stroke-width="1.5" />
<line x1="214.5" y1="292.81" x2="222.5" y2="292.81" stroke="#111" stroke-width="1.5" />
<line x1="218.5" y1="288.81" x2="218.5" y2="296.81" stroke="#111" stroke-width="1.5" />
<line x1="234.4" y1="293.07" x2="242.4" y2="293.07" stroke="#111" stroke-width="1.5" />
<line x1="254" y1="293.33" x2="262" y2="293.33" stroke="#111" stroke-width="1.5" />
<line x1="258" y1="289.33" x2="258" y2="297.33" stroke="#111" stroke-width="1.5" />
<line x1="273.9" y1="293.59" x2="281.9" y2="293.59" stroke="#111" stroke-width="1.5" />
<line x1="214.5" y1="306.31" x2="222.5" y2="306.31" stroke="#111" stroke-width="1.5" />
<line x1="234.4" y1="306.57" x2="242.4" y2="306.57" stroke="#111" stroke-width="1.5" />
<line x1="238.4" y1="302.57" x2="238.4" y2="310.57" stroke="#111" stroke-width="1.5" />
<line x1="254" y1="306.83" x2="262" y2="306.83" stroke="#111" stroke-width="1.5" />
<line x1="273.9" y1="307.09" x2="281.9" y2="307.09" stroke="#111" stroke-width="1.5" />
<line x1="277.9" y1="303.09" x2="277.9" y2="311.09" stroke="#111" stroke-width="1.5" />
<line x1="318.65" y1="265.01" x2="326.65" y2="265.01" stroke="#111" stroke-width="1.5" />
<line x1="322.65" y1="261.01" x2="322.65" y2="269.01" stroke="#111" stroke-width="1.5" />
<line x1="338.55" y1="265.27" x2="346.55" y2="265.27" stroke="#111" stroke-width="1.5" />
<line x1="342.55" y1="261.27" x2="342.55" y2="269.27" stroke="#111" stroke-width="1.5" />
<line x1="358.15" y1="265.53" x2="366.15" y2="265.53" stroke="#111" stroke-width="1.5" />
<line x1="378.05" y1="265.79" x2="386.05" y2="265.79" stroke="#111" stroke-width="1.5" />
<line x1="318.65" y1="278.81" x2="326.65" y2="278.81" stroke="#111" stroke-width="1.5" />
<line x1="338.55" y1="279.07" x2="346.55" y2="279.07" stroke="#111" stroke-width="1.5" />
<line x1="358.15" y1="279.33" x2="366.15" y2="279.33" stroke="#111" stroke-width="1.5" />
<line x1="362.15" y1="275.33" x2="362.15" y2="283.33" stroke="#111" stroke-width="1.5" />
<line x1="378.05" y1="279.59" x2="386.05" y2="279.59" stroke="#111" stroke-width="1.5" />
<line x1="382.05" y1="275.59" x2="382.05" y2="283.59" stroke="#111" stroke-width="1.5" />
<line x1="318.65" y1="292.91" x2="326.65" y2="292.91" stroke="#111" stroke-width="1.5" />
<line x1="322.65" y1="288.91" x2="322.65" y2="296.91" stroke="#111" stroke-width="1.5" />
<line x1="338.55" y1="293.17" x2="346.55" y2="293.17" stroke="#111" stroke-width="1.5" />
<line x1="358.15" y1="293.43" x2="366.15" y2="293.43" stroke="#111" stroke-width="1.5" />
<line x1="362.15" y1="289.43" x2="362.15" y2="297.43" stroke="#111" stroke-width="1.5" />
<line x1="378.05" y1="293.69" x2="386.05" y2="293.69" stroke="#111" stroke-width="1.5" />
<line x1="318.65" y1="306.41" x2="326.65" y2="306.41" stroke="#111" stroke-width="1.5" />
<line x1="338.55" y1="306.67" x2="346.55" y2="306.67" stroke="#111" stroke-width="1.5" />
<line x1="342.55" y1="302.67" x2="342.55" y2="310.67" stroke="#111" stroke-width="1.5" />
<line x1="358.15" y1="306.93" x2="366.15" y2="306.93" stroke="#111" stroke-width="1.5" />
<line x1="378.05" y1="307.19" x2="386.05" y2="307.19" stroke="#111" stroke-width="1.5" />
<line x1="382.05" y1="303.19" x2="382.05" y2="311.19" stroke="#111" stroke-width="1.5" />
<line x1="423.1" y1="265.11" x2="431.1" y2="265.11" stroke="#111" stroke-width="1.5" />
<line x1="427.1" y1="261.11" x2="427.1" y2="269.11" stroke="#111" stroke-width="1.5" />
<line x1="443" y1="265.37" x2="451" y2="265.37" stroke="#111" stroke-width="1.5" />
<line x1="447" y1="261.37" x2="447" y2="269.37" stroke="#111" stroke-width="1.5" />
<line x1="462.6" y1="265.63" x2="470.6" y2="265.63" stroke="#111" stroke-width="1.5" />
<line x1="482.5" y1="265.89" x2="490.5" y2="265.89" stroke="#111" stroke-width="1.5" />
<line x1="423.1" y1="278.91" x2="431.1" y2="278.91" stroke="#111" stroke-width="1.5" />
<line x1="443" y1="279.17" x2="451" y2="279.17" stroke="#111" stroke-width="1.5" />
<line x1="462.6" y1="279.43" x2="470.6" y2="279.43" stroke="#111" stroke-width="1.5" />
<line x1="466.6" y1="275.43" x2="466.6" y2="283.43" stroke="#111" stroke-width="1.5" />
<line x1="482.5" y1="279.69" x2="490.5" y2="279.69" stroke="#111" stroke-width="1.5" />
<line x1="486.5" y1="275.69" x2="486.5" y2="283.69" stroke="#111" stroke-width="1.5" />
<line x1="423.1" y1="293.01" x2="431.1" y2="293.01" stroke="#111" stroke-width="1.5" />
<line x1="427.1" y1="289.01" x2="427.1" y2="297.01" stroke="#111" stroke-width="1.5" />
<line x1="443" y1="293.27" x2="451" y2="293.27" stroke="#111" stroke-width="1.5" />
<line x1="462.6" y1="293.53" x2="470.6" y2="293.53" stroke="#111" stroke-width="1.5" />
<line x1="466.6" y1="289.53" x2="466.6" y2="297.53" stroke="#111" stroke-width="1.5" />
<line x1="482.5" y1="293.79" x2="490.5" y2="293.79" stroke="#111" stroke-width="1.5" />
<line x1="423.1" y1="306.51" x2="431.1" y2="306.51" stroke="#111" stroke-width="1.5" />
<line x1="443" y1="306.77" x2="451" y2="306.77" stroke="#111" stroke-width="1.5" />
<line x1="447" y1="302.77" x2="447" y2="310.77" stroke="#111" stroke-width="1.5" />
<line x1="462.6" y1="307.03" x2="470.6" y2="307.03" stroke="#111" stroke-width="1.5" />
<line x1="482.5" y1="307.29" x2="490.5" y2="307.29" stroke="#111" stroke-width="1.5" />
<line x1="486.5" y1="303.29" x2="486.5" y2="311.29" stroke="#111" stroke-width="1.5" />
<line x1="527.1" y1="265.41" x2="535.1" y2="265.41" stroke="#111" stroke-width="1.5" />
<line x1="531.1" y1="261.41" x2="531.1" y2="269.41" stroke="#111" stroke-width="1.5" />
<line x1="547" y1="265.67" x2="555" y2="265.67" stroke="#111" stroke-width="1.5" />
<line x1="551" y1="261.67" x2="551" y2="269.67" stroke="#111" stroke-width="1.5" />
<line x1="566.6" y1="265.93" x2="574.6" y2="265.93" stroke="#111" stroke-width="1.5" />
<line x1="586.5" y1="266.19" x2="594.5" y2="266.19" stroke="#111" stroke-width="1.5" />
<line x1="527.1" y1="279.21" x2="535.1" y2="279.21" stroke="#111" stroke-width="1.5" />
<line x1="547" y1="279.47" x2="555" y2="279.47" stroke="#111" stroke-width="1.5" />
<line x1="566.6" y1="279.73" x2="574.6" y2="279.73" stroke="#111" stroke-width="1.5" />
<line x1="570.6" y1="275.73" x2="570.6" y2="283.73" stroke="#111" stroke-width="1.5" />
<line x1="586.5" y1="279.99" x2="594.5" y2="279.99" stroke="#111" stroke-width="1.5" />
<line x1="590.5" y1="275.99" x2="590.5" y2="283.99" stroke="#111" stroke-width="1.5" />
<line x1="527.1" y1="293.31" x2="535.1" y2="293.31" stroke="#111" stroke-width="1.5" />
<line x1="531.1" y1="289.31" x2="531.1" y2="297.31" stroke="#111" stroke-width="1.5" />
<line x1="547" y1="293.57" x2="555" y2="293.57" stroke="#111" stroke-width="1.5" />
<line x1="566.6" y1="293.83" x2="574.6" y2="293.83" stroke="#111" stroke-width="1.5" />
<line x1="570.6" y1="289.83" x2="570.6" y2="297.83" stroke="#111" stroke-width="1.5" />
<line x1="586.5" y1="294.09" x2="594.5" y2="294.09" stroke="#111" stroke-width="1.5" />
<line x1="527.1" y1="306.81" x2="535.1" y2="306.81" stroke="#111" stroke-width="1.5" />
<line x1="547" y1="307.07" x2="555" y2="307.07" stroke="#111" stroke-width="1.5" />
<line x1="551" y1="303.07" x2="551" y2="311.07" stroke="#111" stroke-width="1.5" />
<line x1="566.6" y1="307.33" x2="574.6" y2="307.33" stroke="#111" stroke-width="1.5" />
<line x1="586.5" y1="307.59" x2="594.5" y2="307.59" stroke="#111" stroke-width="1.5" />
<line x1="590.5" y1="303.59" x2="590.5" y2="311.59" stroke="#111" stroke-width="1.5" />
<text x="72.4" y="270" font-family='"Liberation Serif", serif' font-size="11.5" font-weight="bold" font-style="normal" text-anchor="start" fill="#111" >ND</text>
<text x="72.4" y="282.3" font-family='"Liberation Serif", serif' font-size="11.5" font-weight="bold" font-style="normal" text-anchor="start" fill="#111" >D</text>
<text x="72.4" y="294" font-family='"Liberation Serif", serif' font-size="11.5" font-weight="bold" font-style="normal" text-anchor="start" fill="#111" >Veh</text>
<text x="72.4" y="306.19" font-family='"Liberation Serif", serif' font-size="11.5" font-weight="bold" font-style="normal" text-anchor="start" fill="#111" >LXA<tspan font-size="7.59" dy="3.45">4</tspan></text>
<text x="4" y="335.8" font-family='"Liberation Serif", serif' font-size="18.5" font-weight="bold" font-style="normal" text-anchor="start" fill="#111" >B</text>
<line x1="93.3" y1="367.4" x2="93.3" y2="558.05" stroke="#111" stroke-width="1.8" />
<line x1="93.3" y1="349.3" x2="93.3" y2="359.9" stroke="#111" stroke-width="1.8" />
<line x1="88.7" y1="557.2" x2="94.2" y2="557.2" stroke="#111" stroke-width="1.7" />
<line x1="88.7" y1="493.9" x2="94.2" y2="493.9" stroke="#111" stroke-width="1.7" />
<line x1="88.7" y1="430.6" x2="94.2" y2="430.6" stroke="#111" stroke-width="1.7" />
<line x1="88.7" y1="349.3" x2="94.2" y2="349.3" stroke="#111" stroke-width="1.7" />
<line x1="90.6" y1="359.9" x2="95.8" y2="359.9" stroke="#111" stroke-width="1.7" />
<line x1="90.6" y1="367.4" x2="95.8" y2="367.4" stroke="#111" stroke-width="1.7" />
<text x="87.2" y="562.99" font-family='"Liberation Serif", serif' font-size="14" font-weight="bold" font-style="normal" text-anchor="end" fill="#111" >0</text>
<text x="87.2" y="499.69" font-family='"Liberation Serif", serif' font-size="14" font-weight="bold" font-style="normal" text-anchor="end" fill="#111" >3</text>
<text x="87.2" y="436.39" font-family='"Liberation Serif", serif' font-size="14" font-weight="bold" font-style="normal" text-anchor="end" fill="#111" >6</text>
<text x="87.2" y="373.39" font-family='"Liberation Serif", serif' font-size="14" font-weight="bold" font-style="normal" text-anchor="end" fill="#111" >9</text>
<text x="86.2" y="355.29" font-family='"Liberation Serif", serif' font-size="14" font-weight="bold" font-style="normal" text-anchor="end" fill="#111" >32</text>
<text transform="translate(47.35,449.6) rotate(-90)" x="0" y="4.79" font-family='"Liberation Serif", serif' font-size="14.5" font-weight="bold" text-anchor="middle" fill="#111">LV pro-resolving genes</text>
<text transform="translate(65,449.5) rotate(-90)" x="0" y="4.85" font-family='"Liberation Serif", serif' font-size="14.7" font-weight="bold" text-anchor="middle" fill="#111">(fold of control mean)</text>
<line x1="95" y1="557.2" x2="608.5" y2="557.2" stroke="#333" stroke-width="1.0" stroke-dasharray="1.3 2.2"/>
<line x1="103.2" y1="567.9" x2="608.5" y2="567.9" stroke="#111" stroke-width="1.8" />
<rect x="106.95" y="538.45" width="17" height="18.25" fill="none" stroke="#0a0ae6" stroke-width="1.7"/>
<rect x="128.15" y="538.45" width="17" height="18.25" fill="none" stroke="#3c3cee" stroke-width="1.7"/>
<rect x="149.35" y="533.45" width="17" height="23.25" fill="none" stroke="#e00000" stroke-width="1.7"/>
<rect x="170.65" y="534.15" width="17.1" height="22.55" fill="none" stroke="#e10a0a" stroke-width="1.7"/>
<circle cx="108.8" cy="528.9" r="3.2" stroke="#8787f5" stroke-width="1.3" fill="none"/>
<circle cx="113.9" cy="526.4" r="3.2" stroke="#8787f5" stroke-width="1.3" fill="none"/>
<circle cx="117.5" cy="527.4" r="3.2" stroke="#8787f5" stroke-width="1.3" fill="none"/>
<circle cx="121.9" cy="529.6" r="3.2" stroke="#8787f5" stroke-width="1.3" fill="none"/>
<circle cx="111" cy="531.8" r="3.2" stroke="#8787f5" stroke-width="1.3" fill="none"/>
<circle cx="115.3" cy="532.3" r="3.2" stroke="#8787f5" stroke-width="1.3" fill="none"/>
<circle cx="108.8" cy="536.2" r="3.2" stroke="#8787f5" stroke-width="1.3" fill="none"/>
<circle cx="120.4" cy="536.2" r="3.2" stroke="#8787f5" stroke-width="1.3" fill="none"/>
<circle cx="113.9" cy="539.1" r="3.2" stroke="#8787f5" stroke-width="1.3" fill="none"/>
<circle cx="119" cy="539.9" r="3.2" stroke="#8787f5" stroke-width="1.3" fill="none"/>
<circle cx="108.8" cy="544.2" r="3.2" stroke="#8787f5" stroke-width="1.3" fill="none"/>
<circle cx="112.4" cy="542.8" r="3.2" stroke="#8787f5" stroke-width="1.3" fill="none"/>
<circle cx="121.9" cy="547.2" r="3.2" stroke="#8787f5" stroke-width="1.3" fill="none"/>
<path d="M133.4 520.18H140.2L136.8 526.02Z" stroke="#8787f5" stroke-width="1.25" fill="none" stroke-linejoin="miter"/>
<path d="M133.4 527.48H140.2L136.8 533.32Z" stroke="#8787f5" stroke-width="1.25" fill="none" stroke-linejoin="miter"/>
<path d="M126.5 531.78H133.3L129.9 537.62Z" stroke="#8787f5" stroke-width="1.25" fill="none" stroke-linejoin="miter"/>
<path d="M140.1 531.78H146.9L143.5 537.62Z" stroke="#8787f5" stroke-width="1.25" fill="none" stroke-linejoin="miter"/>
<path d="M130.2 534.78H137L133.6 540.62Z" stroke="#8787f5" stroke-width="1.25" fill="none" stroke-linejoin="miter"/>
<path d="M136.7 534.78H143.5L140.1 540.62Z" stroke="#8787f5" stroke-width="1.25" fill="none" stroke-linejoin="miter"/>
<path d="M126.5 539.08H133.3L129.9 544.92Z" stroke="#8787f5" stroke-width="1.25" fill="none" stroke-linejoin="miter"/>
<path d="M133.4 539.08H140.2L136.8 544.92Z" stroke="#8787f5" stroke-width="1.25" fill="none" stroke-linejoin="miter"/>
<path d="M140.1 539.08H146.9L143.5 544.92Z" stroke="#8787f5" stroke-width="1.25" fill="none" stroke-linejoin="miter"/>
<circle cx="157.7" cy="506.3" r="3.2" stroke="#f4a2a2" stroke-width="1.3" fill="none"/>
<circle cx="157.7" cy="513.6" r="3.2" stroke="#f4a2a2" stroke-width="1.3" fill="none"/>
<circle cx="154.7" cy="519.4" r="3.2" stroke="#f4a2a2" stroke-width="1.3" fill="none"/>
<circle cx="158.4" cy="523.1" r="3.2" stroke="#f4a2a2" stroke-width="1.3" fill="none"/>
<circle cx="151.1" cy="531.1" r="3.2" stroke="#f4a2a2" stroke-width="1.3" fill="none"/>
<circle cx="164.2" cy="530.4" r="3.2" stroke="#f4a2a2" stroke-width="1.3" fill="none"/>
<circle cx="157.7" cy="536.9" r="3.2" stroke="#f4a2a2" stroke-width="1.3" fill="none"/>
<circle cx="161.3" cy="539.9" r="3.2" stroke="#f4a2a2" stroke-width="1.3" fill="none"/>
<circle cx="155.5" cy="539.9" r="3.2" stroke="#f4a2a2" stroke-width="1.3" fill="none"/>
<circle cx="154.7" cy="545.7" r="3.2" stroke="#f4a2a2" stroke-width="1.3" fill="none"/>
<path d="M175.7 506.98H182.5L179.1 512.82Z" stroke="#f4a2a2" stroke-width="1.25" fill="none" stroke-linejoin="miter"/>
<path d="M173.2 520.88H180L176.6 526.72Z" stroke="#f4a2a2" stroke-width="1.25" fill="none" stroke-linejoin="miter"/>
<path d="M175.4 523.08H182.2L178.8 528.92Z" stroke="#f4a2a2" stroke-width="1.25" fill="none" stroke-linejoin="miter"/>
<path d="M168.9 526.68H175.7L172.3 532.52Z" stroke="#f4a2a2" stroke-width="1.25" fill="none" stroke-linejoin="miter"/>
<path d="M182.7 526.68H189.5L186.1 532.52Z" stroke="#f4a2a2" stroke-width="1.25" fill="none" stroke-linejoin="miter"/>
<path d="M175.4 536.98H182.2L178.8 542.82Z" stroke="#f4a2a2" stroke-width="1.25" fill="none" stroke-linejoin="miter"/>
<path d="M175.4 541.28H182.2L178.8 547.12Z" stroke="#f4a2a2" stroke-width="1.25" fill="none" stroke-linejoin="miter"/>
<path d="M172.5 544.28H179.3L175.9 550.12Z" stroke="#f4a2a2" stroke-width="1.25" fill="none" stroke-linejoin="miter"/>
<path d="M177.6 544.28H184.4L181 550.12Z" stroke="#f4a2a2" stroke-width="1.25" fill="none" stroke-linejoin="miter"/>
<line x1="115.45" y1="534.7" x2="115.45" y2="539.6" stroke="#0a0ae6" stroke-width="1.8" />
<line x1="110.7" y1="534.7" x2="120.2" y2="534.7" stroke="#0a0ae6" stroke-width="1.8" />
<line x1="110.7" y1="539.6" x2="120.2" y2="539.6" stroke="#0a0ae6" stroke-width="1.8" />
<line x1="136.65" y1="535.2" x2="136.65" y2="539.6" stroke="#0a0ae6" stroke-width="1.8" />
<line x1="131.9" y1="535.2" x2="141.4" y2="535.2" stroke="#0a0ae6" stroke-width="1.8" />
<line x1="131.9" y1="539.6" x2="141.4" y2="539.6" stroke="#0a0ae6" stroke-width="1.8" />
<line x1="157.85" y1="526" x2="157.85" y2="533.8" stroke="#e00000" stroke-width="1.8" />
<line x1="153.1" y1="526" x2="162.6" y2="526" stroke="#e00000" stroke-width="1.8" />
<line x1="153.1" y1="533.8" x2="162.6" y2="533.8" stroke="#e00000" stroke-width="1.8" />
<line x1="179.2" y1="530.4" x2="179.2" y2="535.8" stroke="#e00000" stroke-width="1.8" />
<line x1="174.45" y1="530.4" x2="183.95" y2="530.4" stroke="#e00000" stroke-width="1.8" />
<line x1="174.45" y1="535.8" x2="183.95" y2="535.8" stroke="#e00000" stroke-width="1.8" />
<text x="145.4" y="330.75" font-family='"Liberation Serif", serif' font-size="14.4" font-weight="bold" font-style="italic" text-anchor="middle" fill="#111" >Alox-5</text>
<rect x="211.45" y="537.45" width="16.5" height="19.25" fill="none" stroke="#0a0ae6" stroke-width="1.7"/>
<rect x="232.25" y="527.25" width="16.9" height="29.45" fill="none" stroke="#3c3cee" stroke-width="1.7"/>
<rect x="253.75" y="519.65" width="16.8" height="37.05" fill="none" stroke="#e00000" stroke-width="1.7"/>
<rect x="274.95" y="530.65" width="16.8" height="26.05" fill="none" stroke="#e10a0a" stroke-width="1.7"/>
<circle cx="219.8" cy="507.9" r="3.2" stroke="#8787f5" stroke-width="1.3" fill="none"/>
<circle cx="219.8" cy="520.3" r="3.2" stroke="#8787f5" stroke-width="1.3" fill="none"/>
<circle cx="219.8" cy="525.4" r="3.2" stroke="#8787f5" stroke-width="1.3" fill="none"/>
<circle cx="222.2" cy="529.3" r="3.2" stroke="#8787f5" stroke-width="1.3" fill="none"/>
<circle cx="217.1" cy="533.4" r="3.2" stroke="#8787f5" stroke-width="1.3" fill="none"/>
<circle cx="225.2" cy="536.4" r="3.2" stroke="#8787f5" stroke-width="1.3" fill="none"/>
<circle cx="215" cy="540.7" r="3.2" stroke="#8787f5" stroke-width="1.3" fill="none"/>
<circle cx="226.6" cy="544.8" r="3.2" stroke="#8787f5" stroke-width="1.3" fill="none"/>
<circle cx="213.1" cy="545.8" r="3.2" stroke="#8787f5" stroke-width="1.3" fill="none"/>
<circle cx="218.6" cy="545.8" r="3.2" stroke="#8787f5" stroke-width="1.3" fill="none"/>
<circle cx="223.7" cy="548" r="3.2" stroke="#8787f5" stroke-width="1.3" fill="none"/>
<path d="M237.8 456.08H244.6L241.2 461.92Z" stroke="#8787f5" stroke-width="1.25" fill="none" stroke-linejoin="miter"/>
<path d="M231.3 519.58H238.1L234.7 525.42Z" stroke="#8787f5" stroke-width="1.25" fill="none" stroke-linejoin="miter"/>
<path d="M244.4 518.88H251.2L247.8 524.72Z" stroke="#8787f5" stroke-width="1.25" fill="none" stroke-linejoin="miter"/>
<path d="M237.8 526.08H244.6L241.2 531.92Z" stroke="#8787f5" stroke-width="1.25" fill="none" stroke-linejoin="miter"/>
<path d="M231.3 533.48H238.1L234.7 539.32Z" stroke="#8787f5" stroke-width="1.25" fill="none" stroke-linejoin="miter"/>
<path d="M244.4 533.48H251.2L247.8 539.32Z" stroke="#8787f5" stroke-width="1.25" fill="none" stroke-linejoin="miter"/>
<path d="M237.8 534.88H244.6L241.2 540.72Z" stroke="#8787f5" stroke-width="1.25" fill="none" stroke-linejoin="miter"/>
<path d="M240.7 539.98H247.5L244.1 545.82Z" stroke="#8787f5" stroke-width="1.25" fill="none" stroke-linejoin="miter"/>
<path d="M234.2 545.88H241L237.6 551.72Z" stroke="#8787f5" stroke-width="1.25" fill="none" stroke-linejoin="miter"/>
<circle cx="262.1" cy="492.3" r="3.2" stroke="#f4a2a2" stroke-width="1.3" fill="none"/>
<circle cx="255.8" cy="505" r="3.2" stroke="#f4a2a2" stroke-width="1.3" fill="none"/>
<circle cx="262.4" cy="505.4" r="3.2" stroke="#f4a2a2" stroke-width="1.3" fill="none"/>
<circle cx="268.2" cy="510.4" r="3.2" stroke="#f4a2a2" stroke-width="1.3" fill="none"/>
<circle cx="255.8" cy="519.6" r="3.2" stroke="#f4a2a2" stroke-width="1.3" fill="none"/>
<circle cx="262.4" cy="522.5" r="3.2" stroke="#f4a2a2" stroke-width="1.3" fill="none"/>
<circle cx="268.2" cy="524.7" r="3.2" stroke="#f4a2a2" stroke-width="1.3" fill="none"/>
<circle cx="255.8" cy="528.3" r="3.2" stroke="#f4a2a2" stroke-width="1.3" fill="none"/>
<circle cx="262.4" cy="529.3" r="3.2" stroke="#f4a2a2" stroke-width="1.3" fill="none"/>
<circle cx="268.2" cy="532" r="3.2" stroke="#f4a2a2" stroke-width="1.3" fill="none"/>
<circle cx="255.8" cy="536.6" r="3.2" stroke="#f4a2a2" stroke-width="1.3" fill="none"/>
<path d="M282.4 499.88H289.2L285.8 505.72Z" stroke="#f4a2a2" stroke-width="1.25" fill="none" stroke-linejoin="miter"/>
<path d="M277.7 504.28H284.5L281.1 510.12Z" stroke="#f4a2a2" stroke-width="1.25" fill="none" stroke-linejoin="miter"/>
<path d="M280.2 516.68H287L283.6 522.52Z" stroke="#f4a2a2" stroke-width="1.25" fill="none" stroke-linejoin="miter"/>
<path d="M286.7 523.18H293.5L290.1 529.02Z" stroke="#f4a2a2" stroke-width="1.25" fill="none" stroke-linejoin="miter"/>
<path d="M273.6 529.08H280.4L277 534.92Z" stroke="#f4a2a2" stroke-width="1.25" fill="none" stroke-linejoin="miter"/>
<path d="M285.3 530.48H292.1L288.7 536.32Z" stroke="#f4a2a2" stroke-width="1.25" fill="none" stroke-linejoin="miter"/>
<path d="M278 534.18H284.8L281.4 540.02Z" stroke="#f4a2a2" stroke-width="1.25" fill="none" stroke-linejoin="miter"/>
<path d="M286.7 537.08H293.5L290.1 542.92Z" stroke="#f4a2a2" stroke-width="1.25" fill="none" stroke-linejoin="miter"/>
<path d="M280.2 543.68H287L283.6 549.52Z" stroke="#f4a2a2" stroke-width="1.25" fill="none" stroke-linejoin="miter"/>
<line x1="219.7" y1="533.4" x2="219.7" y2="539" stroke="#0a0ae6" stroke-width="1.8" />
<line x1="214.95" y1="533.4" x2="224.45" y2="533.4" stroke="#0a0ae6" stroke-width="1.8" />
<line x1="214.95" y1="539" x2="224.45" y2="539" stroke="#0a0ae6" stroke-width="1.8" />
<line x1="240.7" y1="516.9" x2="240.7" y2="534.9" stroke="#0a0ae6" stroke-width="1.8" />
<line x1="235.95" y1="516.9" x2="245.45" y2="516.9" stroke="#0a0ae6" stroke-width="1.8" />
<line x1="235.95" y1="534.9" x2="245.45" y2="534.9" stroke="#0a0ae6" stroke-width="1.8" />
<line x1="262.15" y1="514.5" x2="262.15" y2="522" stroke="#e00000" stroke-width="1.8" />
<line x1="257.4" y1="514.5" x2="266.9" y2="514.5" stroke="#e00000" stroke-width="1.8" />
<line x1="257.4" y1="522" x2="266.9" y2="522" stroke="#e00000" stroke-width="1.8" />
<line x1="283.35" y1="525" x2="283.35" y2="532.7" stroke="#e00000" stroke-width="1.8" />
<line x1="278.6" y1="525" x2="288.1" y2="525" stroke="#e00000" stroke-width="1.8" />
<line x1="278.6" y1="532.7" x2="288.1" y2="532.7" stroke="#e00000" stroke-width="1.8" />
<text x="250.5" y="330.75" font-family='"Liberation Serif", serif' font-size="14.4" font-weight="bold" font-style="italic" text-anchor="middle" fill="#111" >Alox-12</text>
<rect x="315.55" y="537.75" width="17.1" height="18.95" fill="none" stroke="#0a0ae6" stroke-width="1.7"/>
<rect x="337.05" y="527.05" width="17" height="29.65" fill="none" stroke="#3c3cee" stroke-width="1.7"/>
<rect x="358.45" y="419.85" width="16.2" height="136.85" fill="none" stroke="#e00000" stroke-width="1.7"/>
<rect x="379.35" y="492.75" width="16.8" height="63.95" fill="none" stroke="#e10a0a" stroke-width="1.7"/>
<circle cx="323.6" cy="495.4" r="3.2" stroke="#8787f5" stroke-width="1.3" fill="none"/>
<circle cx="323.6" cy="503.4" r="3.2" stroke="#8787f5" stroke-width="1.3" fill="none"/>
<circle cx="323.6" cy="512.8" r="3.2" stroke="#8787f5" stroke-width="1.3" fill="none"/>
<circle cx="319" cy="530.2" r="3.2" stroke="#8787f5" stroke-width="1.3" fill="none"/>
<circle cx="327.5" cy="530.2" r="3.2" stroke="#8787f5" stroke-width="1.3" fill="none"/>
<circle cx="323.6" cy="539.6" r="3.2" stroke="#8787f5" stroke-width="1.3" fill="none"/>
<circle cx="318" cy="546.3" r="3.2" stroke="#8787f5" stroke-width="1.3" fill="none"/>
<circle cx="329" cy="546.3" r="3.2" stroke="#8787f5" stroke-width="1.3" fill="none"/>
<circle cx="323.6" cy="548.5" r="3.2" stroke="#8787f5" stroke-width="1.3" fill="none"/>
<circle cx="323.6" cy="554.3" r="3.2" stroke="#8787f5" stroke-width="1.3" fill="none"/>
<path d="M341.6 434.88H348.4L345 440.72Z" stroke="#8787f5" stroke-width="1.25" fill="none" stroke-linejoin="miter"/>
<path d="M341.6 475.08H348.4L345 480.92Z" stroke="#8787f5" stroke-width="1.25" fill="none" stroke-linejoin="miter"/>
<path d="M341.6 532.58H348.4L345 538.42Z" stroke="#8787f5" stroke-width="1.25" fill="none" stroke-linejoin="miter"/>
<path d="M336.6 543.38H343.4L340 549.22Z" stroke="#8787f5" stroke-width="1.25" fill="none" stroke-linejoin="miter"/>
<path d="M346.6 543.38H353.4L350 549.22Z" stroke="#8787f5" stroke-width="1.25" fill="none" stroke-linejoin="miter"/>
<path d="M341.6 543.38H348.4L345 549.22Z" stroke="#8787f5" stroke-width="1.25" fill="none" stroke-linejoin="miter"/>
<circle cx="366.4" cy="352" r="3.2" stroke="#f4a2a2" stroke-width="1.3" fill="none"/>
<circle cx="366.4" cy="358.8" r="3.2" stroke="#f4a2a2" stroke-width="1.3" fill="none"/>
<circle cx="366.4" cy="368" r="3.2" stroke="#f4a2a2" stroke-width="1.3" fill="none"/>
<circle cx="366.4" cy="387.7" r="3.2" stroke="#f4a2a2" stroke-width="1.3" fill="none"/>
<circle cx="366.4" cy="437" r="3.2" stroke="#f4a2a2" stroke-width="1.3" fill="none"/>
<circle cx="366.4" cy="468" r="3.2" stroke="#f4a2a2" stroke-width="1.3" fill="none"/>
<circle cx="366.4" cy="484.1" r="3.2" stroke="#f4a2a2" stroke-width="1.3" fill="none"/>
<circle cx="366.4" cy="492.7" r="3.2" stroke="#f4a2a2" stroke-width="1.3" fill="none"/>
<circle cx="359.5" cy="511.4" r="3.2" stroke="#f4a2a2" stroke-width="1.3" fill="none"/>
<circle cx="372.9" cy="511.4" r="3.2" stroke="#f4a2a2" stroke-width="1.3" fill="none"/>
<circle cx="366.4" cy="527" r="3.2" stroke="#f4a2a2" stroke-width="1.3" fill="none"/>
<circle cx="366.4" cy="551.6" r="3.2" stroke="#f4a2a2" stroke-width="1.3" fill="none"/>
<path d="M384.2 356.38H391L387.6 362.22Z" stroke="#f4a2a2" stroke-width="1.25" fill="none" stroke-linejoin="miter"/>
<path d="M384.2 401.38H391L387.6 407.22Z" stroke="#f4a2a2" stroke-width="1.25" fill="none" stroke-linejoin="miter"/>
<path d="M384.2 454.98H391L387.6 460.82Z" stroke="#f4a2a2" stroke-width="1.25" fill="none" stroke-linejoin="miter"/>
<path d="M384.2 481.78H391L387.6 487.62Z" stroke="#f4a2a2" stroke-width="1.25" fill="none" stroke-linejoin="miter"/>
<path d="M377.5 491.88H384.3L380.9 497.72Z" stroke="#f4a2a2" stroke-width="1.25" fill="none" stroke-linejoin="miter"/>
<path d="M390.4 491.88H397.2L393.8 497.72Z" stroke="#f4a2a2" stroke-width="1.25" fill="none" stroke-linejoin="miter"/>
<path d="M384.2 500.48H391L387.6 506.32Z" stroke="#f4a2a2" stroke-width="1.25" fill="none" stroke-linejoin="miter"/>
<path d="M384.2 517.88H391L387.6 523.72Z" stroke="#f4a2a2" stroke-width="1.25" fill="none" stroke-linejoin="miter"/>
<path d="M384.2 526.78H391L387.6 532.62Z" stroke="#f4a2a2" stroke-width="1.25" fill="none" stroke-linejoin="miter"/>
<path d="M384.2 539.28H391L387.6 545.12Z" stroke="#f4a2a2" stroke-width="1.25" fill="none" stroke-linejoin="miter"/>
<path d="M377.5 544.68H384.3L380.9 550.52Z" stroke="#f4a2a2" stroke-width="1.25" fill="none" stroke-linejoin="miter"/>
<path d="M390.4 544.68H397.2L393.8 550.52Z" stroke="#f4a2a2" stroke-width="1.25" fill="none" stroke-linejoin="miter"/>
<line x1="324.1" y1="532" x2="324.1" y2="539.6" stroke="#0a0ae6" stroke-width="1.8" />
<line x1="319.35" y1="532" x2="328.85" y2="532" stroke="#0a0ae6" stroke-width="1.8" />
<line x1="319.35" y1="539.6" x2="328.85" y2="539.6" stroke="#0a0ae6" stroke-width="1.8" />
<line x1="345.55" y1="512.2" x2="345.55" y2="539.6" stroke="#0a0ae6" stroke-width="1.8" />
<line x1="340.8" y1="512.2" x2="350.3" y2="512.2" stroke="#0a0ae6" stroke-width="1.8" />
<line x1="340.8" y1="539.6" x2="350.3" y2="539.6" stroke="#0a0ae6" stroke-width="1.8" />
<line x1="366.55" y1="373.5" x2="366.55" y2="463.8" stroke="#e00000" stroke-width="1.8" />
<line x1="361.8" y1="373.5" x2="371.3" y2="373.5" stroke="#e00000" stroke-width="1.8" />
<line x1="361.8" y1="463.8" x2="371.3" y2="463.8" stroke="#e00000" stroke-width="1.8" />
<line x1="387.75" y1="473.1" x2="387.75" y2="508.2" stroke="#e00000" stroke-width="1.8" />
<line x1="383" y1="473.1" x2="392.5" y2="473.1" stroke="#e00000" stroke-width="1.8" />
<line x1="383" y1="508.2" x2="392.5" y2="508.2" stroke="#e00000" stroke-width="1.8" />
<text x="355" y="330.75" font-family='"Liberation Serif", serif' font-size="14.4" font-weight="bold" font-style="italic" text-anchor="middle" fill="#111" >Alox-15</text>
<rect x="419.65" y="537.95" width="17.2" height="18.75" fill="none" stroke="#0a0ae6" stroke-width="1.7"/>
<rect x="441.55" y="549.05" width="16.6" height="7.65" fill="none" stroke="#3c3cee" stroke-width="1.7"/>
<rect x="462.85" y="489.15" width="16.3" height="67.55" fill="none" stroke="#e00000" stroke-width="1.7"/>
<rect x="483.85" y="533.55" width="16.7" height="23.15" fill="none" stroke="#e10a0a" stroke-width="1.7"/>
<circle cx="428.1" cy="429.6" r="3.2" stroke="#8787f5" stroke-width="1.3" fill="none"/>
<circle cx="428.1" cy="516.6" r="3.2" stroke="#8787f5" stroke-width="1.3" fill="none"/>
<circle cx="428.1" cy="524" r="3.2" stroke="#8787f5" stroke-width="1.3" fill="none"/>
<circle cx="428.1" cy="534.2" r="3.2" stroke="#8787f5" stroke-width="1.3" fill="none"/>
<circle cx="432.8" cy="534.2" r="3.2" stroke="#8787f5" stroke-width="1.3" fill="none"/>
<circle cx="421.7" cy="541.5" r="3.2" stroke="#8787f5" stroke-width="1.3" fill="none"/>
<circle cx="434.8" cy="541.5" r="3.2" stroke="#8787f5" stroke-width="1.3" fill="none"/>
<circle cx="428.1" cy="548.8" r="3.2" stroke="#8787f5" stroke-width="1.3" fill="none"/>
<circle cx="432.2" cy="556" r="3.2" stroke="#8787f5" stroke-width="1.3" fill="none"/>
<path d="M446 528.28H452.8L449.4 534.12Z" stroke="#8787f5" stroke-width="1.25" fill="none" stroke-linejoin="miter"/>
<path d="M446 532.68H452.8L449.4 538.52Z" stroke="#8787f5" stroke-width="1.25" fill="none" stroke-linejoin="miter"/>
<path d="M440.1 548.08H446.9L443.5 553.92Z" stroke="#8787f5" stroke-width="1.25" fill="none" stroke-linejoin="miter"/>
<path d="M446 548.08H452.8L449.4 553.92Z" stroke="#8787f5" stroke-width="1.25" fill="none" stroke-linejoin="miter"/>
<path d="M452.1 548.08H458.9L455.5 553.92Z" stroke="#8787f5" stroke-width="1.25" fill="none" stroke-linejoin="miter"/>
<circle cx="470.7" cy="372.7" r="3.2" stroke="#f4a2a2" stroke-width="1.3" fill="none"/>
<circle cx="467.5" cy="424" r="3.2" stroke="#f4a2a2" stroke-width="1.3" fill="none"/>
<circle cx="474.2" cy="424" r="3.2" stroke="#f4a2a2" stroke-width="1.3" fill="none"/>
<circle cx="470.7" cy="446.6" r="3.2" stroke="#f4a2a2" stroke-width="1.3" fill="none"/>
<circle cx="470.7" cy="469.3" r="3.2" stroke="#f4a2a2" stroke-width="1.3" fill="none"/>
<circle cx="470.7" cy="502" r="3.2" stroke="#f4a2a2" stroke-width="1.3" fill="none"/>
<circle cx="470.7" cy="513.7" r="3.2" stroke="#f4a2a2" stroke-width="1.3" fill="none"/>
<circle cx="467" cy="535" r="3.2" stroke="#f4a2a2" stroke-width="1.3" fill="none"/>
<circle cx="474" cy="535" r="3.2" stroke="#f4a2a2" stroke-width="1.3" fill="none"/>
<circle cx="463.5" cy="541.5" r="3.2" stroke="#f4a2a2" stroke-width="1.3" fill="none"/>
<circle cx="470.7" cy="541.5" r="3.2" stroke="#f4a2a2" stroke-width="1.3" fill="none"/>
<circle cx="478" cy="541.5" r="3.2" stroke="#f4a2a2" stroke-width="1.3" fill="none"/>
<circle cx="470.7" cy="544.4" r="3.2" stroke="#f4a2a2" stroke-width="1.3" fill="none"/>
<path d="M488.4 477.18H495.2L491.8 483.02Z" stroke="#f4a2a2" stroke-width="1.25" fill="none" stroke-linejoin="miter"/>
<path d="M488.4 505.88H495.2L491.8 511.72Z" stroke="#f4a2a2" stroke-width="1.25" fill="none" stroke-linejoin="miter"/>
<path d="M488.4 519.58H495.2L491.8 525.42Z" stroke="#f4a2a2" stroke-width="1.25" fill="none" stroke-linejoin="miter"/>
<path d="M483.6 531.28H490.4L487 537.12Z" stroke="#f4a2a2" stroke-width="1.25" fill="none" stroke-linejoin="miter"/>
<path d="M493.6 531.28H500.4L497 537.12Z" stroke="#f4a2a2" stroke-width="1.25" fill="none" stroke-linejoin="miter"/>
<path d="M482.1 541.48H488.9L485.5 547.32Z" stroke="#f4a2a2" stroke-width="1.25" fill="none" stroke-linejoin="miter"/>
<path d="M488.4 541.48H495.2L491.8 547.32Z" stroke="#f4a2a2" stroke-width="1.25" fill="none" stroke-linejoin="miter"/>
<path d="M494.6 541.48H501.4L498 547.32Z" stroke="#f4a2a2" stroke-width="1.25" fill="none" stroke-linejoin="miter"/>
<path d="M488.4 548.78H495.2L491.8 554.62Z" stroke="#f4a2a2" stroke-width="1.25" fill="none" stroke-linejoin="miter"/>
<line x1="428.25" y1="528.9" x2="428.25" y2="543.6" stroke="#0a0ae6" stroke-width="1.8" />
<line x1="423.5" y1="528.9" x2="433" y2="528.9" stroke="#0a0ae6" stroke-width="1.8" />
<line x1="423.5" y1="543.6" x2="433" y2="543.6" stroke="#0a0ae6" stroke-width="1.8" />
<line x1="449.85" y1="545.7" x2="449.85" y2="550.3" stroke="#0a0ae6" stroke-width="1.8" />
<line x1="445.1" y1="545.7" x2="454.6" y2="545.7" stroke="#0a0ae6" stroke-width="1.8" />
<line x1="445.1" y1="550.3" x2="454.6" y2="550.3" stroke="#0a0ae6" stroke-width="1.8" />
<line x1="471" y1="470.8" x2="471" y2="505.8" stroke="#e00000" stroke-width="1.8" />
<line x1="466.25" y1="470.8" x2="475.75" y2="470.8" stroke="#e00000" stroke-width="1.8" />
<line x1="466.25" y1="505.8" x2="475.75" y2="505.8" stroke="#e00000" stroke-width="1.8" />
<line x1="492.2" y1="526.3" x2="492.2" y2="538.5" stroke="#e00000" stroke-width="1.8" />
<line x1="487.45" y1="526.3" x2="496.95" y2="526.3" stroke="#e00000" stroke-width="1.8" />
<line x1="487.45" y1="538.5" x2="496.95" y2="538.5" stroke="#e00000" stroke-width="1.8" />
<text x="459.5" y="330.75" font-family='"Liberation Serif", serif' font-size="14.4" font-weight="bold" font-style="italic" text-anchor="middle" fill="#111" >Fpr 1</text>
<rect x="524.15" y="537.35" width="17" height="19.35" fill="none" stroke="#0a0ae6" stroke-width="1.7"/>
<rect x="545.75" y="540.85" width="16.7" height="15.85" fill="none" stroke="#3c3cee" stroke-width="1.7"/>
<rect x="567.05" y="473.65" width="16.7" height="83.05" fill="none" stroke="#e00000" stroke-width="1.7"/>
<rect x="588.35" y="515.15" width="16.4" height="41.55" fill="none" stroke="#e10a0a" stroke-width="1.7"/>
<circle cx="532.6" cy="481" r="3.2" stroke="#8787f5" stroke-width="1.3" fill="none"/>
<circle cx="531" cy="521" r="3.2" stroke="#8787f5" stroke-width="1.3" fill="none"/>
<circle cx="535.6" cy="521" r="3.2" stroke="#8787f5" stroke-width="1.3" fill="none"/>
<circle cx="529" cy="525.4" r="3.2" stroke="#8787f5" stroke-width="1.3" fill="none"/>
<circle cx="532.6" cy="534.2" r="3.2" stroke="#8787f5" stroke-width="1.3" fill="none"/>
<circle cx="526" cy="541.5" r="3.2" stroke="#8787f5" stroke-width="1.3" fill="none"/>
<circle cx="538" cy="541.5" r="3.2" stroke="#8787f5" stroke-width="1.3" fill="none"/>
<circle cx="532.6" cy="548.8" r="3.2" stroke="#8787f5" stroke-width="1.3" fill="none"/>
<circle cx="527" cy="551.7" r="3.2" stroke="#8787f5" stroke-width="1.3" fill="none"/>
<circle cx="538" cy="551.7" r="3.2" stroke="#8787f5" stroke-width="1.3" fill="none"/>
<path d="M545.3 533.58H552.1L548.7 539.42Z" stroke="#8787f5" stroke-width="1.25" fill="none" stroke-linejoin="miter"/>
<path d="M554 529.78H560.8L557.4 535.62Z" stroke="#8787f5" stroke-width="1.25" fill="none" stroke-linejoin="miter"/>
<path d="M550.6 537.08H557.4L554 542.92Z" stroke="#8787f5" stroke-width="1.25" fill="none" stroke-linejoin="miter"/>
<path d="M545.6 542.08H552.4L549 547.92Z" stroke="#8787f5" stroke-width="1.25" fill="none" stroke-linejoin="miter"/>
<path d="M553.6 542.08H560.4L557 547.92Z" stroke="#8787f5" stroke-width="1.25" fill="none" stroke-linejoin="miter"/>
<path d="M550.6 547.08H557.4L554 552.92Z" stroke="#8787f5" stroke-width="1.25" fill="none" stroke-linejoin="miter"/>
<circle cx="575" cy="359" r="3.2" stroke="#f4a2a2" stroke-width="1.3" fill="none"/>
<circle cx="575" cy="390.2" r="3.2" stroke="#f4a2a2" stroke-width="1.3" fill="none"/>
<circle cx="575" cy="421.2" r="3.2" stroke="#f4a2a2" stroke-width="1.3" fill="none"/>
<circle cx="575" cy="446" r="3.2" stroke="#f4a2a2" stroke-width="1.3" fill="none"/>
<circle cx="575" cy="468.5" r="3.2" stroke="#f4a2a2" stroke-width="1.3" fill="none"/>
<circle cx="575" cy="482.2" r="3.2" stroke="#f4a2a2" stroke-width="1.3" fill="none"/>
<circle cx="569.1" cy="529.8" r="3.2" stroke="#f4a2a2" stroke-width="1.3" fill="none"/>
<circle cx="575" cy="529.8" r="3.2" stroke="#f4a2a2" stroke-width="1.3" fill="none"/>
<circle cx="580.9" cy="529.8" r="3.2" stroke="#f4a2a2" stroke-width="1.3" fill="none"/>
<circle cx="575" cy="533.6" r="3.2" stroke="#f4a2a2" stroke-width="1.3" fill="none"/>
<circle cx="575" cy="540" r="3.2" stroke="#f4a2a2" stroke-width="1.3" fill="none"/>
<path d="M592.9 442.78H599.7L596.3 448.62Z" stroke="#f4a2a2" stroke-width="1.25" fill="none" stroke-linejoin="miter"/>
<path d="M592.9 469.88H599.7L596.3 475.72Z" stroke="#f4a2a2" stroke-width="1.25" fill="none" stroke-linejoin="miter"/>
<path d="M589.6 494.78H596.4L593 500.62Z" stroke="#f4a2a2" stroke-width="1.25" fill="none" stroke-linejoin="miter"/>
<path d="M596.4 494.78H603.2L599.8 500.62Z" stroke="#f4a2a2" stroke-width="1.25" fill="none" stroke-linejoin="miter"/>
<path d="M592.9 505.88H599.7L596.3 511.72Z" stroke="#f4a2a2" stroke-width="1.25" fill="none" stroke-linejoin="miter"/>
<path d="M592.9 523.98H599.7L596.3 529.82Z" stroke="#f4a2a2" stroke-width="1.25" fill="none" stroke-linejoin="miter"/>
<path d="M587.6 529.78H594.4L591 535.62Z" stroke="#f4a2a2" stroke-width="1.25" fill="none" stroke-linejoin="miter"/>
<path d="M597.6 529.78H604.4L601 535.62Z" stroke="#f4a2a2" stroke-width="1.25" fill="none" stroke-linejoin="miter"/>
<path d="M592.9 535.08H599.7L596.3 540.92Z" stroke="#f4a2a2" stroke-width="1.25" fill="none" stroke-linejoin="miter"/>
<path d="M588.6 540.08H595.4L592 545.92Z" stroke="#f4a2a2" stroke-width="1.25" fill="none" stroke-linejoin="miter"/>
<path d="M596.6 540.08H603.4L600 545.92Z" stroke="#f4a2a2" stroke-width="1.25" fill="none" stroke-linejoin="miter"/>
<line x1="532.65" y1="532" x2="532.65" y2="540.9" stroke="#0a0ae6" stroke-width="1.8" />
<line x1="527.9" y1="532" x2="537.4" y2="532" stroke="#0a0ae6" stroke-width="1.8" />
<line x1="527.9" y1="540.9" x2="537.4" y2="540.9" stroke="#0a0ae6" stroke-width="1.8" />
<line x1="554.1" y1="537.4" x2="554.1" y2="542" stroke="#0a0ae6" stroke-width="1.8" />
<line x1="549.35" y1="537.4" x2="558.85" y2="537.4" stroke="#0a0ae6" stroke-width="1.8" />
<line x1="549.35" y1="542" x2="558.85" y2="542" stroke="#0a0ae6" stroke-width="1.8" />
<line x1="575.4" y1="452.4" x2="575.4" y2="491.8" stroke="#e00000" stroke-width="1.8" />
<line x1="570.65" y1="452.4" x2="580.15" y2="452.4" stroke="#e00000" stroke-width="1.8" />
<line x1="570.65" y1="491.8" x2="580.15" y2="491.8" stroke="#e00000" stroke-width="1.8" />
<line x1="596.55" y1="505" x2="596.55" y2="522.5" stroke="#e00000" stroke-width="1.8" />
<line x1="591.8" y1="505" x2="601.3" y2="505" stroke="#e00000" stroke-width="1.8" />
<line x1="591.8" y1="522.5" x2="601.3" y2="522.5" stroke="#e00000" stroke-width="1.8" />
<text x="564.5" y="330.75" font-family='"Liberation Serif", serif' font-size="14.4" font-weight="bold" font-style="italic" text-anchor="middle" fill="#111" >Fpr 2</text>
<path d="M115.3 401V345.1H148.9V372.3" stroke="#111" stroke-width="1.7" fill="none" stroke-linecap="butt" stroke-linejoin="miter"/>
<path d="M217.75 401.25V345H259V370" stroke="#111" stroke-width="1.7" fill="none" stroke-linecap="butt" stroke-linejoin="miter"/>
<path d="M262 370V345H283.5V401.25" stroke="#111" stroke-width="1.7" fill="none" stroke-linecap="butt" stroke-linejoin="miter"/>
<path d="M325 401.25V343.75H364.5V348.75" stroke="#111" stroke-width="1.7" fill="none" stroke-linecap="butt" stroke-linejoin="miter"/>
<path d="M368.25 348.75V343.75H388.75V350" stroke="#111" stroke-width="1.7" fill="none" stroke-linecap="butt" stroke-linejoin="miter"/>
<path d="M428.25 400V345H469.25V365.5" stroke="#111" stroke-width="1.7" fill="none" stroke-linecap="butt" stroke-linejoin="miter"/>
<path d="M472.5 365.5V345H491.75V400" stroke="#111" stroke-width="1.7" fill="none" stroke-linecap="butt" stroke-linejoin="miter"/>
<path d="M532.5 400V345H573.75V350.5" stroke="#111" stroke-width="1.7" fill="none" stroke-linecap="butt" stroke-linejoin="miter"/>
<path d="M577.5 350.5V345H596.25V400" stroke="#111" stroke-width="1.7" fill="none" stroke-linecap="butt" stroke-linejoin="miter"/>
<path d="M132.1 340.05L132.1 334.95M129.89 338.77L134.31 336.23M129.89 336.23L134.31 338.77" stroke="#111" stroke-width="1.4" stroke-linecap="round" fill="none"/>
<circle cx="132.1" cy="337.5" r="1.15" fill="#111"/>
<path d="M234.2 339.55L234.2 334.45M231.99 338.27L236.41 335.73M231.99 335.73L236.41 338.27" stroke="#111" stroke-width="1.4" stroke-linecap="round" fill="none"/>
<circle cx="234.2" cy="337" r="1.15" fill="#111"/>
<path d="M241.8 339.55L241.8 334.45M239.59 338.27L244.01 335.73M239.59 335.73L244.01 338.27" stroke="#111" stroke-width="1.4" stroke-linecap="round" fill="none"/>
<circle cx="241.8" cy="337" r="1.15" fill="#111"/>
<text x="272.25" y="339.57" font-family='"Liberation Serif", serif' font-size="9.3" font-weight="bold" font-style="normal" text-anchor="middle" fill="#111" >P=0.1</text>
<path d="M336.65 338.35L336.65 333.25M334.44 337.07L338.86 334.53M334.44 334.53L338.86 337.07" stroke="#111" stroke-width="1.4" stroke-linecap="round" fill="none"/>
<circle cx="336.65" cy="335.8" r="1.15" fill="#111"/>
<path d="M344.25 338.35L344.25 333.25M342.04 337.07L346.46 334.53M342.04 334.53L346.46 337.07" stroke="#111" stroke-width="1.4" stroke-linecap="round" fill="none"/>
<circle cx="344.25" cy="335.8" r="1.15" fill="#111"/>
<path d="M351.85 338.35L351.85 333.25M349.64 337.07L354.06 334.53M349.64 334.53L354.06 337.07" stroke="#111" stroke-width="1.4" stroke-linecap="round" fill="none"/>
<circle cx="351.85" cy="335.8" r="1.15" fill="#111"/>
<path d="M378 338.55L378 333.45M375.79 337.27L380.21 334.73M375.79 334.73L380.21 337.27" stroke="#111" stroke-width="1.4" stroke-linecap="round" fill="none"/>
<circle cx="378" cy="336" r="1.15" fill="#111"/>
<path d="M441.15 340.05L441.15 334.95M438.94 338.77L443.36 336.23M438.94 336.23L443.36 338.77" stroke="#111" stroke-width="1.4" stroke-linecap="round" fill="none"/>
<circle cx="441.15" cy="337.5" r="1.15" fill="#111"/>
<path d="M448.75 340.05L448.75 334.95M446.54 338.77L450.96 336.23M446.54 336.23L450.96 338.77" stroke="#111" stroke-width="1.4" stroke-linecap="round" fill="none"/>
<circle cx="448.75" cy="337.5" r="1.15" fill="#111"/>
<path d="M456.35 340.05L456.35 334.95M454.14 338.77L458.56 336.23M454.14 336.23L458.56 338.77" stroke="#111" stroke-width="1.4" stroke-linecap="round" fill="none"/>
<circle cx="456.35" cy="337.5" r="1.15" fill="#111"/>
<path d="M478.7 340.05L478.7 334.95M476.49 338.77L480.91 336.23M476.49 336.23L480.91 338.77" stroke="#111" stroke-width="1.4" stroke-linecap="round" fill="none"/>
<circle cx="478.7" cy="337.5" r="1.15" fill="#111"/>
<path d="M486.3 340.05L486.3 334.95M484.09 338.77L488.51 336.23M484.09 336.23L488.51 338.77" stroke="#111" stroke-width="1.4" stroke-linecap="round" fill="none"/>
<circle cx="486.3" cy="337.5" r="1.15" fill="#111"/>
<path d="M541.1 340.05L541.1 334.95M538.89 338.77L543.31 336.23M538.89 336.23L543.31 338.77" stroke="#111" stroke-width="1.4" stroke-linecap="round" fill="none"/>
<circle cx="541.1" cy="337.5" r="1.15" fill="#111"/>
<path d="M548.7 340.05L548.7 334.95M546.49 338.77L550.91 336.23M546.49 336.23L550.91 338.77" stroke="#111" stroke-width="1.4" stroke-linecap="round" fill="none"/>
<circle cx="548.7" cy="337.5" r="1.15" fill="#111"/>
<path d="M556.3 340.05L556.3 334.95M554.09 338.77L558.51 336.23M554.09 336.23L558.51 338.77" stroke="#111" stroke-width="1.4" stroke-linecap="round" fill="none"/>
<circle cx="556.3" cy="337.5" r="1.15" fill="#111"/>
<path d="M563.9 340.05L563.9 334.95M561.69 338.77L566.11 336.23M561.69 336.23L566.11 338.77" stroke="#111" stroke-width="1.4" stroke-linecap="round" fill="none"/>
<circle cx="563.9" cy="337.5" r="1.15" fill="#111"/>
<path d="M587 340.05L587 334.95M584.79 338.77L589.21 336.23M584.79 336.23L589.21 338.77" stroke="#111" stroke-width="1.4" stroke-linecap="round" fill="none"/>
<circle cx="587" cy="337.5" r="1.15" fill="#111"/>
<line x1="113.65" y1="577.51" x2="121.65" y2="577.51" stroke="#111" stroke-width="1.5" />
<line x1="117.65" y1="573.51" x2="117.65" y2="581.51" stroke="#111" stroke-width="1.5" />
<line x1="133.55" y1="577.77" x2="141.55" y2="577.77" stroke="#111" stroke-width="1.5" />
<line x1="137.55" y1="573.77" x2="137.55" y2="581.77" stroke="#111" stroke-width="1.5" />
<line x1="153.15" y1="578.03" x2="161.15" y2="578.03" stroke="#111" stroke-width="1.5" />
<line x1="173.05" y1="578.29" x2="181.05" y2="578.29" stroke="#111" stroke-width="1.5" />
<line x1="113.65" y1="591.01" x2="121.65" y2="591.01" stroke="#111" stroke-width="1.5" />
<line x1="133.55" y1="591.27" x2="141.55" y2="591.27" stroke="#111" stroke-width="1.5" />
<line x1="153.15" y1="591.53" x2="161.15" y2="591.53" stroke="#111" stroke-width="1.5" />
<line x1="157.15" y1="587.53" x2="157.15" y2="595.53" stroke="#111" stroke-width="1.5" />
<line x1="173.05" y1="591.79" x2="181.05" y2="591.79" stroke="#111" stroke-width="1.5" />
<line x1="177.05" y1="587.79" x2="177.05" y2="595.79" stroke="#111" stroke-width="1.5" />
<line x1="113.65" y1="604.71" x2="121.65" y2="604.71" stroke="#111" stroke-width="1.5" />
<line x1="117.65" y1="600.71" x2="117.65" y2="608.71" stroke="#111" stroke-width="1.5" />
<line x1="133.55" y1="604.97" x2="141.55" y2="604.97" stroke="#111" stroke-width="1.5" />
<line x1="153.15" y1="605.23" x2="161.15" y2="605.23" stroke="#111" stroke-width="1.5" />
<line x1="157.15" y1="601.23" x2="157.15" y2="609.23" stroke="#111" stroke-width="1.5" />
<line x1="173.05" y1="605.49" x2="181.05" y2="605.49" stroke="#111" stroke-width="1.5" />
<line x1="113.65" y1="618.81" x2="121.65" y2="618.81" stroke="#111" stroke-width="1.5" />
<line x1="133.55" y1="619.07" x2="141.55" y2="619.07" stroke="#111" stroke-width="1.5" />
<line x1="137.55" y1="615.07" x2="137.55" y2="623.07" stroke="#111" stroke-width="1.5" />
<line x1="153.15" y1="619.33" x2="161.15" y2="619.33" stroke="#111" stroke-width="1.5" />
<line x1="173.05" y1="619.59" x2="181.05" y2="619.59" stroke="#111" stroke-width="1.5" />
<line x1="177.05" y1="615.59" x2="177.05" y2="623.59" stroke="#111" stroke-width="1.5" />
<line x1="217.9" y1="578.21" x2="225.9" y2="578.21" stroke="#111" stroke-width="1.5" />
<line x1="221.9" y1="574.21" x2="221.9" y2="582.21" stroke="#111" stroke-width="1.5" />
<line x1="237.8" y1="578.47" x2="245.8" y2="578.47" stroke="#111" stroke-width="1.5" />
<line x1="241.8" y1="574.47" x2="241.8" y2="582.47" stroke="#111" stroke-width="1.5" />
<line x1="257.4" y1="578.73" x2="265.4" y2="578.73" stroke="#111" stroke-width="1.5" />
<line x1="277.3" y1="578.99" x2="285.3" y2="578.99" stroke="#111" stroke-width="1.5" />
<line x1="217.9" y1="591.71" x2="225.9" y2="591.71" stroke="#111" stroke-width="1.5" />
<line x1="237.8" y1="591.97" x2="245.8" y2="591.97" stroke="#111" stroke-width="1.5" />
<line x1="257.4" y1="592.23" x2="265.4" y2="592.23" stroke="#111" stroke-width="1.5" />
<line x1="261.4" y1="588.23" x2="261.4" y2="596.23" stroke="#111" stroke-width="1.5" />
<line x1="277.3" y1="592.49" x2="285.3" y2="592.49" stroke="#111" stroke-width="1.5" />
<line x1="281.3" y1="588.49" x2="281.3" y2="596.49" stroke="#111" stroke-width="1.5" />
<line x1="217.9" y1="605.41" x2="225.9" y2="605.41" stroke="#111" stroke-width="1.5" />
<line x1="221.9" y1="601.41" x2="221.9" y2="609.41" stroke="#111" stroke-width="1.5" />
<line x1="237.8" y1="605.67" x2="245.8" y2="605.67" stroke="#111" stroke-width="1.5" />
<line x1="257.4" y1="605.93" x2="265.4" y2="605.93" stroke="#111" stroke-width="1.5" />
<line x1="261.4" y1="601.93" x2="261.4" y2="609.93" stroke="#111" stroke-width="1.5" />
<line x1="277.3" y1="606.19" x2="285.3" y2="606.19" stroke="#111" stroke-width="1.5" />
<line x1="217.9" y1="619.51" x2="225.9" y2="619.51" stroke="#111" stroke-width="1.5" />
<line x1="237.8" y1="619.77" x2="245.8" y2="619.77" stroke="#111" stroke-width="1.5" />
<line x1="241.8" y1="615.77" x2="241.8" y2="623.77" stroke="#111" stroke-width="1.5" />
<line x1="257.4" y1="620.03" x2="265.4" y2="620.03" stroke="#111" stroke-width="1.5" />
<line x1="277.3" y1="620.29" x2="285.3" y2="620.29" stroke="#111" stroke-width="1.5" />
<line x1="281.3" y1="616.29" x2="281.3" y2="624.29" stroke="#111" stroke-width="1.5" />
<line x1="322.15" y1="578.91" x2="330.15" y2="578.91" stroke="#111" stroke-width="1.5" />
<line x1="326.15" y1="574.91" x2="326.15" y2="582.91" stroke="#111" stroke-width="1.5" />
<line x1="342.05" y1="579.17" x2="350.05" y2="579.17" stroke="#111" stroke-width="1.5" />
<line x1="346.05" y1="575.17" x2="346.05" y2="583.17" stroke="#111" stroke-width="1.5" />
<line x1="361.65" y1="579.43" x2="369.65" y2="579.43" stroke="#111" stroke-width="1.5" />
<line x1="381.55" y1="579.69" x2="389.55" y2="579.69" stroke="#111" stroke-width="1.5" />
<line x1="322.15" y1="592.41" x2="330.15" y2="592.41" stroke="#111" stroke-width="1.5" />
<line x1="342.05" y1="592.67" x2="350.05" y2="592.67" stroke="#111" stroke-width="1.5" />
<line x1="361.65" y1="592.93" x2="369.65" y2="592.93" stroke="#111" stroke-width="1.5" />
<line x1="365.65" y1="588.93" x2="365.65" y2="596.93" stroke="#111" stroke-width="1.5" />
<line x1="381.55" y1="593.19" x2="389.55" y2="593.19" stroke="#111" stroke-width="1.5" />
<line x1="385.55" y1="589.19" x2="385.55" y2="597.19" stroke="#111" stroke-width="1.5" />
<line x1="322.15" y1="606.11" x2="330.15" y2="606.11" stroke="#111" stroke-width="1.5" />
<line x1="326.15" y1="602.11" x2="326.15" y2="610.11" stroke="#111" stroke-width="1.5" />
<line x1="342.05" y1="606.37" x2="350.05" y2="606.37" stroke="#111" stroke-width="1.5" />
<line x1="361.65" y1="606.63" x2="369.65" y2="606.63" stroke="#111" stroke-width="1.5" />
<line x1="365.65" y1="602.63" x2="365.65" y2="610.63" stroke="#111" stroke-width="1.5" />
<line x1="381.55" y1="606.89" x2="389.55" y2="606.89" stroke="#111" stroke-width="1.5" />
<line x1="322.15" y1="620.21" x2="330.15" y2="620.21" stroke="#111" stroke-width="1.5" />
<line x1="342.05" y1="620.47" x2="350.05" y2="620.47" stroke="#111" stroke-width="1.5" />
<line x1="346.05" y1="616.47" x2="346.05" y2="624.47" stroke="#111" stroke-width="1.5" />
<line x1="361.65" y1="620.73" x2="369.65" y2="620.73" stroke="#111" stroke-width="1.5" />
<line x1="381.55" y1="620.99" x2="389.55" y2="620.99" stroke="#111" stroke-width="1.5" />
<line x1="385.55" y1="616.99" x2="385.55" y2="624.99" stroke="#111" stroke-width="1.5" />
<line x1="426.4" y1="579.41" x2="434.4" y2="579.41" stroke="#111" stroke-width="1.5" />
<line x1="430.4" y1="575.41" x2="430.4" y2="583.41" stroke="#111" stroke-width="1.5" />
<line x1="446.3" y1="579.67" x2="454.3" y2="579.67" stroke="#111" stroke-width="1.5" />
<line x1="450.3" y1="575.67" x2="450.3" y2="583.67" stroke="#111" stroke-width="1.5" />
<line x1="465.9" y1="579.93" x2="473.9" y2="579.93" stroke="#111" stroke-width="1.5" />
<line x1="485.8" y1="580.19" x2="493.8" y2="580.19" stroke="#111" stroke-width="1.5" />
<line x1="426.4" y1="592.91" x2="434.4" y2="592.91" stroke="#111" stroke-width="1.5" />
<line x1="446.3" y1="593.17" x2="454.3" y2="593.17" stroke="#111" stroke-width="1.5" />
<line x1="465.9" y1="593.43" x2="473.9" y2="593.43" stroke="#111" stroke-width="1.5" />
<line x1="469.9" y1="589.43" x2="469.9" y2="597.43" stroke="#111" stroke-width="1.5" />
<line x1="485.8" y1="593.69" x2="493.8" y2="593.69" stroke="#111" stroke-width="1.5" />
<line x1="489.8" y1="589.69" x2="489.8" y2="597.69" stroke="#111" stroke-width="1.5" />
<line x1="426.4" y1="606.61" x2="434.4" y2="606.61" stroke="#111" stroke-width="1.5" />
<line x1="430.4" y1="602.61" x2="430.4" y2="610.61" stroke="#111" stroke-width="1.5" />
<line x1="446.3" y1="606.87" x2="454.3" y2="606.87" stroke="#111" stroke-width="1.5" />
<line x1="465.9" y1="607.13" x2="473.9" y2="607.13" stroke="#111" stroke-width="1.5" />
<line x1="469.9" y1="603.13" x2="469.9" y2="611.13" stroke="#111" stroke-width="1.5" />
<line x1="485.8" y1="607.39" x2="493.8" y2="607.39" stroke="#111" stroke-width="1.5" />
<line x1="426.4" y1="620.71" x2="434.4" y2="620.71" stroke="#111" stroke-width="1.5" />
<line x1="446.3" y1="620.97" x2="454.3" y2="620.97" stroke="#111" stroke-width="1.5" />
<line x1="450.3" y1="616.97" x2="450.3" y2="624.97" stroke="#111" stroke-width="1.5" />
<line x1="465.9" y1="621.23" x2="473.9" y2="621.23" stroke="#111" stroke-width="1.5" />
<line x1="485.8" y1="621.49" x2="493.8" y2="621.49" stroke="#111" stroke-width="1.5" />
<line x1="489.8" y1="617.49" x2="489.8" y2="625.49" stroke="#111" stroke-width="1.5" />
<line x1="530.75" y1="579.91" x2="538.75" y2="579.91" stroke="#111" stroke-width="1.5" />
<line x1="534.75" y1="575.91" x2="534.75" y2="583.91" stroke="#111" stroke-width="1.5" />
<line x1="550.65" y1="580.17" x2="558.65" y2="580.17" stroke="#111" stroke-width="1.5" />
<line x1="554.65" y1="576.17" x2="554.65" y2="584.17" stroke="#111" stroke-width="1.5" />
<line x1="570.25" y1="580.43" x2="578.25" y2="580.43" stroke="#111" stroke-width="1.5" />
<line x1="590.15" y1="580.69" x2="598.15" y2="580.69" stroke="#111" stroke-width="1.5" />
<line x1="530.75" y1="593.41" x2="538.75" y2="593.41" stroke="#111" stroke-width="1.5" />
<line x1="550.65" y1="593.67" x2="558.65" y2="593.67" stroke="#111" stroke-width="1.5" />
<line x1="570.25" y1="593.93" x2="578.25" y2="593.93" stroke="#111" stroke-width="1.5" />
<line x1="574.25" y1="589.93" x2="574.25" y2="597.93" stroke="#111" stroke-width="1.5" />
<line x1="590.15" y1="594.19" x2="598.15" y2="594.19" stroke="#111" stroke-width="1.5" />
<line x1="594.15" y1="590.19" x2="594.15" y2="598.19" stroke="#111" stroke-width="1.5" />
<line x1="530.75" y1="607.11" x2="538.75" y2="607.11" stroke="#111" stroke-width="1.5" />
<line x1="534.75" y1="603.11" x2="534.75" y2="611.11" stroke="#111" stroke-width="1.5" />
<line x1="550.65" y1="607.37" x2="558.65" y2="607.37" stroke="#111" stroke-width="1.5" />
<line x1="570.25" y1="607.63" x2="578.25" y2="607.63" stroke="#111" stroke-width="1.5" />
<line x1="574.25" y1="603.63" x2="574.25" y2="611.63" stroke="#111" stroke-width="1.5" />
<line x1="590.15" y1="607.89" x2="598.15" y2="607.89" stroke="#111" stroke-width="1.5" />
<line x1="530.75" y1="621.21" x2="538.75" y2="621.21" stroke="#111" stroke-width="1.5" />
<line x1="550.65" y1="621.47" x2="558.65" y2="621.47" stroke="#111" stroke-width="1.5" />
<line x1="554.65" y1="617.47" x2="554.65" y2="625.47" stroke="#111" stroke-width="1.5" />
<line x1="570.25" y1="621.73" x2="578.25" y2="621.73" stroke="#111" stroke-width="1.5" />
<line x1="590.15" y1="621.99" x2="598.15" y2="621.99" stroke="#111" stroke-width="1.5" />
<line x1="594.15" y1="617.99" x2="594.15" y2="625.99" stroke="#111" stroke-width="1.5" />
<text x="76.3" y="583.69" font-family='"Liberation Serif", serif' font-size="11.5" font-weight="bold" font-style="normal" text-anchor="start" fill="#111" >ND</text>
<text x="76.3" y="596.09" font-family='"Liberation Serif", serif' font-size="11.5" font-weight="bold" font-style="normal" text-anchor="start" fill="#111" >D</text>
<text x="76.3" y="608.39" font-family='"Liberation Serif", serif' font-size="11.5" font-weight="bold" font-style="normal" text-anchor="start" fill="#111" >Veh</text>
<text x="76.3" y="619.79" font-family='"Liberation Serif", serif' font-size="11.5" font-weight="bold" font-style="normal" text-anchor="start" fill="#111" >LXA<tspan font-size="7.59" dy="3.45">4</tspan></text>
<text x="4" y="658.4" font-family='"Liberation Serif", serif' font-size="18.5" font-weight="bold" font-style="normal" text-anchor="start" fill="#111" >C</text>
<defs>
<filter id="bl1" x="-50%" y="-100%" width="200%" height="300%"><feGaussianBlur stdDeviation="0.9"/></filter>
<filter id="bl2" x="-50%" y="-100%" width="200%" height="300%"><feGaussianBlur stdDeviation="0.85"/></filter>
<linearGradient id="g2" x1="0" y1="0" x2="0" y2="1"><stop offset="0" stop-color="#c4c4c4"/><stop offset="0.55" stop-color="#dedede"/><stop offset="1" stop-color="#f3f3f3"/></linearGradient>
<linearGradient id="g1" x1="0" y1="0" x2="0" y2="1"><stop offset="0" stop-color="#a8a8a8"/><stop offset="1" stop-color="#9c9c9c"/></linearGradient>
<linearGradient id="g3" x1="0" y1="0" x2="0" y2="1"><stop offset="0" stop-color="#ececec"/><stop offset="1" stop-color="#f6f6f6"/></linearGradient>
</defs>
<rect x="112.6" y="711.6" width="86.5" height="20" fill="url(#g1)" stroke="#111" stroke-width="1.4"/>
<rect x="119.6" y="715.5" width="11" height="3" rx="1.5" fill="#8c8c8c" opacity="0.55" filter="url(#bl1)"/>
<rect x="141.5" y="715.5" width="11" height="3" rx="1.5" fill="#8c8c8c" opacity="0.55" filter="url(#bl1)"/>
<rect x="163.2" y="715.5" width="11" height="3" rx="1.5" fill="#8c8c8c" opacity="0.55" filter="url(#bl1)"/>
<rect x="184.1" y="715.5" width="11" height="3" rx="1.5" fill="#8c8c8c" opacity="0.55" filter="url(#bl1)"/>
<rect x="119.35" y="722.75" width="11.5" height="2.9" rx="1.45" fill="#3e3e3e" opacity="1" filter="url(#bl2)"/>
<rect x="141.25" y="722.65" width="11.5" height="2.7" rx="1.35" fill="#565656" opacity="1" filter="url(#bl2)"/>
<rect x="162.45" y="721.6" width="12.5" height="4.6" rx="2.3" fill="#1c1c1c" opacity="1" filter="url(#bl2)"/>
<rect x="184.6" y="721.55" width="10" height="2.7" rx="1.35" fill="#4e4e4e" opacity="1" filter="url(#bl2)"/>
<rect x="112.6" y="738.9" width="86.5" height="26.6" fill="url(#g2)" stroke="#111" stroke-width="1.4"/>
<rect x="115.55" y="751" width="14.5" height="2.8" rx="1.4" fill="#5e5e5e" opacity="1" filter="url(#bl2)"/>
<rect x="115.2" y="756.4" width="15.2" height="4" rx="2" fill="#2a2a2a" opacity="1" filter="url(#bl2)"/>
<rect x="138.6" y="751" width="14" height="2.4" rx="1.2" fill="#8e8e8e" opacity="1" filter="url(#bl2)"/>
<rect x="138.6" y="757" width="14" height="2.8" rx="1.4" fill="#8a8a8a" opacity="1" filter="url(#bl2)"/>
<rect x="160.1" y="750.5" width="14" height="3" rx="1.5" fill="#303030" opacity="1" filter="url(#bl2)"/>
<rect x="159.85" y="755.8" width="14.5" height="5.2" rx="2.6" fill="#060606" opacity="1" filter="url(#bl2)"/>
<rect x="181.4" y="748.9" width="15" height="2.6" rx="1.3" fill="#3e3e3e" opacity="1" filter="url(#bl2)"/>
<rect x="181.65" y="755.2" width="14.5" height="2.8" rx="1.4" fill="#4a4a4a" opacity="1" filter="url(#bl2)"/>
<rect x="112.6" y="773.4" width="86.5" height="20.1" fill="url(#g3)" stroke="#111" stroke-width="1.4"/>
<rect x="113.8" y="783.9" width="16.4" height="4.6" rx="2.3" fill="#0e0e0e" opacity="1" filter="url(#bl2)"/>
<rect x="137" y="784.1" width="16.2" height="3.2" rx="1.6" fill="#222222" opacity="1" filter="url(#bl2)"/>
<rect x="157.9" y="782.3" width="16.6" height="6" rx="3" fill="#000000" opacity="1" filter="url(#bl2)"/>
<rect x="179.6" y="783.3" width="15.2" height="4" rx="2" fill="#141414" opacity="1" filter="url(#bl2)"/>
<text x="43.2" y="723.69" font-family='"Liberation Serif", serif' font-size="12.4" font-weight="bold" font-style="normal" text-anchor="start" fill="#111" >78 kDa</text>
<text x="43.2" y="758.69" font-family='"Liberation Serif", serif' font-size="12.4" font-weight="bold" font-style="normal" text-anchor="start" fill="#111" >75 kDa</text>
<text x="43.9" y="790.39" font-family='"Liberation Serif", serif' font-size="12.4" font-weight="bold" font-style="normal" text-anchor="start" fill="#111" >98 kDa</text>
<path d="M88.2 716.1L100.6 720.8L88.2 725.5Z" fill="#111"/>
<path d="M88.2 750.6L100.6 755.3L88.2 760Z" fill="#111"/>
<path d="M89 781.9L101.4 786.6L89 791.3Z" fill="#111"/>
<text x="226" y="726.99" font-family='"Liberation Serif", serif' font-size="12.4" font-weight="bold" font-style="normal" text-anchor="start" fill="#111" >Alox-5</text>
<text x="226" y="759.19" font-family='"Liberation Serif", serif' font-size="12.4" font-weight="bold" font-style="normal" text-anchor="start" fill="#111" >Alox-15</text>
<text x="226" y="788.49" font-family='"Liberation Serif", serif' font-size="12.4" font-weight="bold" font-style="normal" text-anchor="start" fill="#111" >Calnexin</text>
<path d="M221.2 718L208.4 722.7L221.2 727.4Z" fill="#111"/>
<path d="M221.2 750.5L208.4 755.2L221.2 759.9Z" fill="#111"/>
<path d="M221.2 780.3L208.4 785L221.2 789.7Z" fill="#111"/>
<line x1="118.2" y1="807.54" x2="126.2" y2="807.54" stroke="#111" stroke-width="1.5" />
<line x1="122.2" y1="803.54" x2="122.2" y2="811.54" stroke="#111" stroke-width="1.5" />
<line x1="140.8" y1="807.85" x2="148.8" y2="807.85" stroke="#111" stroke-width="1.5" />
<line x1="144.8" y1="803.85" x2="144.8" y2="811.85" stroke="#111" stroke-width="1.5" />
<line x1="162.2" y1="808.15" x2="170.2" y2="808.15" stroke="#111" stroke-width="1.5" />
<line x1="184.2" y1="808.46" x2="192.2" y2="808.46" stroke="#111" stroke-width="1.5" />
<line x1="118.2" y1="821.04" x2="126.2" y2="821.04" stroke="#111" stroke-width="1.5" />
<line x1="140.8" y1="821.35" x2="148.8" y2="821.35" stroke="#111" stroke-width="1.5" />
<line x1="162.2" y1="821.65" x2="170.2" y2="821.65" stroke="#111" stroke-width="1.5" />
<line x1="166.2" y1="817.65" x2="166.2" y2="825.65" stroke="#111" stroke-width="1.5" />
<line x1="184.2" y1="821.96" x2="192.2" y2="821.96" stroke="#111" stroke-width="1.5" />
<line x1="188.2" y1="817.96" x2="188.2" y2="825.96" stroke="#111" stroke-width="1.5" />
<line x1="118.2" y1="834.84" x2="126.2" y2="834.84" stroke="#111" stroke-width="1.5" />
<line x1="122.2" y1="830.84" x2="122.2" y2="838.84" stroke="#111" stroke-width="1.5" />
<line x1="140.8" y1="835.15" x2="148.8" y2="835.15" stroke="#111" stroke-width="1.5" />
<line x1="162.2" y1="835.45" x2="170.2" y2="835.45" stroke="#111" stroke-width="1.5" />
<line x1="166.2" y1="831.45" x2="166.2" y2="839.45" stroke="#111" stroke-width="1.5" />
<line x1="184.2" y1="835.76" x2="192.2" y2="835.76" stroke="#111" stroke-width="1.5" />
<line x1="118.2" y1="848.74" x2="126.2" y2="848.74" stroke="#111" stroke-width="1.5" />
<line x1="140.8" y1="849.05" x2="148.8" y2="849.05" stroke="#111" stroke-width="1.5" />
<line x1="144.8" y1="845.05" x2="144.8" y2="853.05" stroke="#111" stroke-width="1.5" />
<line x1="162.2" y1="849.35" x2="170.2" y2="849.35" stroke="#111" stroke-width="1.5" />
<line x1="184.2" y1="849.66" x2="192.2" y2="849.66" stroke="#111" stroke-width="1.5" />
<line x1="188.2" y1="845.66" x2="188.2" y2="853.66" stroke="#111" stroke-width="1.5" />
<text x="86" y="811.5" font-family='"Liberation Serif", serif' font-size="11.2" font-weight="bold" font-style="normal" text-anchor="start" fill="#111" >ND</text>
<text x="86" y="825.1" font-family='"Liberation Serif", serif' font-size="11.2" font-weight="bold" font-style="normal" text-anchor="start" fill="#111" >D</text>
<text x="86" y="838.4" font-family='"Liberation Serif", serif' font-size="11.2" font-weight="bold" font-style="normal" text-anchor="start" fill="#111" >Veh</text>
<text x="86" y="851.3" font-family='"Liberation Serif", serif' font-size="11.2" font-weight="bold" font-style="normal" text-anchor="start" fill="#111" >LXA<tspan font-size="7.39" dy="3.36">4</tspan></text>
<text x="319.8" y="658" font-family='"Liberation Serif", serif' font-size="18.5" font-weight="bold" font-style="normal" text-anchor="start" fill="#111" >D</text>
<line x1="365.9" y1="675.8" x2="365.9" y2="828.65" stroke="#111" stroke-width="1.8" />
<line x1="361.3" y1="827.8" x2="366.8" y2="827.8" stroke="#111" stroke-width="1.7" />
<text x="360.6" y="833.46" font-family='"Liberation Serif", serif' font-size="13.6" font-weight="bold" font-style="normal" text-anchor="end" fill="#111" >0</text>
<line x1="361.3" y1="789.8" x2="366.8" y2="789.8" stroke="#111" stroke-width="1.7" />
<text x="360.6" y="795.46" font-family='"Liberation Serif", serif' font-size="13.6" font-weight="bold" font-style="normal" text-anchor="end" fill="#111" >1</text>
<line x1="361.3" y1="751.8" x2="366.8" y2="751.8" stroke="#111" stroke-width="1.7" />
<text x="360.6" y="757.46" font-family='"Liberation Serif", serif' font-size="13.6" font-weight="bold" font-style="normal" text-anchor="end" fill="#111" >2</text>
<line x1="361.3" y1="713.8" x2="366.8" y2="713.8" stroke="#111" stroke-width="1.7" />
<text x="360.6" y="719.46" font-family='"Liberation Serif", serif' font-size="13.6" font-weight="bold" font-style="normal" text-anchor="end" fill="#111" >3</text>
<line x1="361.3" y1="675.8" x2="366.8" y2="675.8" stroke="#111" stroke-width="1.7" />
<text x="360.6" y="681.46" font-family='"Liberation Serif", serif' font-size="13.6" font-weight="bold" font-style="normal" text-anchor="end" fill="#111" >4</text>
<text transform="translate(330,747.6) rotate(-90)" x="0" y="4.55" font-family='"Liberation Serif", serif' font-size="13.8" font-weight="bold" text-anchor="middle" fill="#111">LV pro-resolving proteins</text>
<text transform="translate(346.5,748.4) rotate(-90)" x="0" y="4.55" font-family='"Liberation Serif", serif' font-size="13.8" font-weight="bold" text-anchor="middle" fill="#111">(/Calnexin. ratio)</text>
<line x1="367.5" y1="827.8" x2="681" y2="827.8" stroke="#333" stroke-width="1.0" stroke-dasharray="1.3 2.2"/>
<line x1="375.3" y1="837.6" x2="681.5" y2="837.6" stroke="#111" stroke-width="1.8" />
<rect x="380.1" y="791.65" width="25.5" height="35.45" fill="none" stroke="#0a0ae6" stroke-width="1.8"/>
<rect x="415.1" y="785.4" width="25.3" height="41.7" fill="none" stroke="#3c3cee" stroke-width="1.8"/>
<rect x="450.1" y="743.4" width="25.3" height="83.7" fill="none" stroke="#e00000" stroke-width="1.8"/>
<rect x="484.7" y="777.2" width="25.2" height="49.9" fill="none" stroke="#e10a0a" stroke-width="1.8"/>
<circle cx="393" cy="747" r="3.2" stroke="#8787f5" stroke-width="1.3" fill="none"/>
<circle cx="393" cy="781.25" r="3.2" stroke="#8787f5" stroke-width="1.3" fill="none"/>
<circle cx="382" cy="796.25" r="3.2" stroke="#8787f5" stroke-width="1.3" fill="none"/>
<circle cx="403.75" cy="796.25" r="3.2" stroke="#8787f5" stroke-width="1.3" fill="none"/>
<circle cx="393" cy="800.5" r="3.2" stroke="#8787f5" stroke-width="1.3" fill="none"/>
<circle cx="393" cy="818.75" r="3.2" stroke="#8787f5" stroke-width="1.3" fill="none"/>
<path d="M424.6 749.08H431.4L428 754.92Z" stroke="#8787f5" stroke-width="1.25" fill="none" stroke-linejoin="miter"/>
<path d="M418.35 787.58H425.15L421.75 793.42Z" stroke="#8787f5" stroke-width="1.25" fill="none" stroke-linejoin="miter"/>
<path d="M430.35 787.58H437.15L433.75 793.42Z" stroke="#8787f5" stroke-width="1.25" fill="none" stroke-linejoin="miter"/>
<path d="M424.6 797.58H431.4L428 803.42Z" stroke="#8787f5" stroke-width="1.25" fill="none" stroke-linejoin="miter"/>
<circle cx="461.9" cy="687.7" r="3.2" stroke="#f4a2a2" stroke-width="1.3" fill="none"/>
<circle cx="462.5" cy="723.75" r="3.2" stroke="#f4a2a2" stroke-width="1.3" fill="none"/>
<circle cx="451.75" cy="733" r="3.2" stroke="#f4a2a2" stroke-width="1.3" fill="none"/>
<circle cx="473.75" cy="733" r="3.2" stroke="#f4a2a2" stroke-width="1.3" fill="none"/>
<circle cx="462.5" cy="736.75" r="3.2" stroke="#f4a2a2" stroke-width="1.3" fill="none"/>
<circle cx="462.5" cy="745.75" r="3.2" stroke="#f4a2a2" stroke-width="1.3" fill="none"/>
<circle cx="462.5" cy="778" r="3.2" stroke="#f4a2a2" stroke-width="1.3" fill="none"/>
<circle cx="462.5" cy="795" r="3.2" stroke="#f4a2a2" stroke-width="1.3" fill="none"/>
<path d="M488.35 748.33H495.15L491.75 754.17Z" stroke="#f4a2a2" stroke-width="1.25" fill="none" stroke-linejoin="miter"/>
<path d="M500.35 754.08H507.15L503.75 759.92Z" stroke="#f4a2a2" stroke-width="1.25" fill="none" stroke-linejoin="miter"/>
<path d="M487.85 777.58H494.65L491.25 783.42Z" stroke="#f4a2a2" stroke-width="1.25" fill="none" stroke-linejoin="miter"/>
<path d="M499.85 774.08H506.65L503.25 779.92Z" stroke="#f4a2a2" stroke-width="1.25" fill="none" stroke-linejoin="miter"/>
<path d="M493.6 788.33H500.4L497 794.17Z" stroke="#f4a2a2" stroke-width="1.25" fill="none" stroke-linejoin="miter"/>
<path d="M493.6 796.58H500.4L497 802.42Z" stroke="#f4a2a2" stroke-width="1.25" fill="none" stroke-linejoin="miter"/>
<line x1="392.85" y1="780" x2="392.85" y2="800" stroke="#0a0ae6" stroke-width="1.8" />
<line x1="389.05" y1="780" x2="396.65" y2="780" stroke="#0a0ae6" stroke-width="1.8" />
<line x1="389.05" y1="800" x2="396.65" y2="800" stroke="#0a0ae6" stroke-width="1.8" />
<line x1="427.75" y1="773" x2="427.75" y2="794.5" stroke="#0a0ae6" stroke-width="1.8" />
<line x1="423.95" y1="773" x2="431.55" y2="773" stroke="#0a0ae6" stroke-width="1.8" />
<line x1="423.95" y1="794.5" x2="431.55" y2="794.5" stroke="#0a0ae6" stroke-width="1.8" />
<line x1="462.75" y1="730.5" x2="462.75" y2="753.3" stroke="#e00000" stroke-width="1.8" />
<line x1="458.95" y1="730.5" x2="466.55" y2="730.5" stroke="#e00000" stroke-width="1.8" />
<line x1="458.95" y1="753.3" x2="466.55" y2="753.3" stroke="#e00000" stroke-width="1.8" />
<line x1="497.3" y1="768.8" x2="497.3" y2="781.8" stroke="#e00000" stroke-width="1.8" />
<line x1="493.5" y1="768.8" x2="501.1" y2="768.8" stroke="#e00000" stroke-width="1.8" />
<line x1="493.5" y1="781.8" x2="501.1" y2="781.8" stroke="#e00000" stroke-width="1.8" />
<text x="442.1" y="653.19" font-family='"Liberation Serif", serif' font-size="11.8" font-weight="bold" font-style="normal" text-anchor="middle" fill="#111" >Alox-5</text>
<rect x="547.4" y="791.65" width="25.2" height="35.45" fill="none" stroke="#0a0ae6" stroke-width="1.8"/>
<rect x="582.4" y="800.4" width="25.2" height="26.7" fill="none" stroke="#3c3cee" stroke-width="1.8"/>
<rect x="616.9" y="770.4" width="25.45" height="56.7" fill="none" stroke="#e00000" stroke-width="1.8"/>
<rect x="651.9" y="793.4" width="25.45" height="33.7" fill="none" stroke="#e10a0a" stroke-width="1.8"/>
<circle cx="554" cy="761.75" r="3.2" stroke="#8787f5" stroke-width="1.3" fill="none"/>
<circle cx="566" cy="763" r="3.2" stroke="#8787f5" stroke-width="1.3" fill="none"/>
<circle cx="559.75" cy="785.5" r="3.2" stroke="#8787f5" stroke-width="1.3" fill="none"/>
<circle cx="559.75" cy="795.75" r="3.2" stroke="#8787f5" stroke-width="1.3" fill="none"/>
<circle cx="554" cy="804.25" r="3.2" stroke="#8787f5" stroke-width="1.3" fill="none"/>
<circle cx="566" cy="806.25" r="3.2" stroke="#8787f5" stroke-width="1.3" fill="none"/>
<circle cx="559.75" cy="815" r="3.2" stroke="#8787f5" stroke-width="1.3" fill="none"/>
<path d="M591.1 780.33H597.9L594.5 786.17Z" stroke="#8787f5" stroke-width="1.25" fill="none" stroke-linejoin="miter"/>
<path d="M585.1 797.08H591.9L588.5 802.92Z" stroke="#8787f5" stroke-width="1.25" fill="none" stroke-linejoin="miter"/>
<path d="M597.6 791.58H604.4L601 797.42Z" stroke="#8787f5" stroke-width="1.25" fill="none" stroke-linejoin="miter"/>
<path d="M597.6 803.33H604.4L601 809.17Z" stroke="#8787f5" stroke-width="1.25" fill="none" stroke-linejoin="miter"/>
<path d="M585.1 806.58H591.9L588.5 812.42Z" stroke="#8787f5" stroke-width="1.25" fill="none" stroke-linejoin="miter"/>
<circle cx="623.5" cy="743.25" r="3.2" stroke="#f4a2a2" stroke-width="1.3" fill="none"/>
<circle cx="635.75" cy="746.75" r="3.2" stroke="#f4a2a2" stroke-width="1.3" fill="none"/>
<circle cx="629.5" cy="759.5" r="3.2" stroke="#f4a2a2" stroke-width="1.3" fill="none"/>
<circle cx="623.5" cy="777.5" r="3.2" stroke="#f4a2a2" stroke-width="1.3" fill="none"/>
<circle cx="635.75" cy="776.25" r="3.2" stroke="#f4a2a2" stroke-width="1.3" fill="none"/>
<circle cx="629.5" cy="785.5" r="3.2" stroke="#f4a2a2" stroke-width="1.3" fill="none"/>
<circle cx="629.5" cy="793" r="3.2" stroke="#f4a2a2" stroke-width="1.3" fill="none"/>
<path d="M661.1 758.33H667.9L664.5 764.17Z" stroke="#f4a2a2" stroke-width="1.25" fill="none" stroke-linejoin="miter"/>
<path d="M661.1 773.33H667.9L664.5 779.17Z" stroke="#f4a2a2" stroke-width="1.25" fill="none" stroke-linejoin="miter"/>
<path d="M655.1 792.83H661.9L658.5 798.67Z" stroke="#f4a2a2" stroke-width="1.25" fill="none" stroke-linejoin="miter"/>
<path d="M667.6 790.83H674.4L671 796.67Z" stroke="#f4a2a2" stroke-width="1.25" fill="none" stroke-linejoin="miter"/>
<path d="M655.1 798.33H661.9L658.5 804.17Z" stroke="#f4a2a2" stroke-width="1.25" fill="none" stroke-linejoin="miter"/>
<path d="M667.6 799.58H674.4L671 805.42Z" stroke="#f4a2a2" stroke-width="1.25" fill="none" stroke-linejoin="miter"/>
<path d="M655.1 805.08H661.9L658.5 810.92Z" stroke="#f4a2a2" stroke-width="1.25" fill="none" stroke-linejoin="miter"/>
<line x1="560" y1="781.75" x2="560" y2="798.25" stroke="#0a0ae6" stroke-width="1.8" />
<line x1="556.2" y1="781.75" x2="563.8" y2="781.75" stroke="#0a0ae6" stroke-width="1.8" />
<line x1="556.2" y1="798.25" x2="563.8" y2="798.25" stroke="#0a0ae6" stroke-width="1.8" />
<line x1="595" y1="794.5" x2="595" y2="803.75" stroke="#0a0ae6" stroke-width="1.8" />
<line x1="591.2" y1="794.5" x2="598.8" y2="794.5" stroke="#0a0ae6" stroke-width="1.8" />
<line x1="591.2" y1="803.75" x2="598.8" y2="803.75" stroke="#0a0ae6" stroke-width="1.8" />
<line x1="629.62" y1="761.75" x2="629.62" y2="775.75" stroke="#e00000" stroke-width="1.8" />
<line x1="625.83" y1="761.75" x2="633.42" y2="761.75" stroke="#e00000" stroke-width="1.8" />
<line x1="625.83" y1="775.75" x2="633.42" y2="775.75" stroke="#e00000" stroke-width="1.8" />
<line x1="664.62" y1="785.75" x2="664.62" y2="798.25" stroke="#e00000" stroke-width="1.8" />
<line x1="660.83" y1="785.75" x2="668.42" y2="785.75" stroke="#e00000" stroke-width="1.8" />
<line x1="660.83" y1="798.25" x2="668.42" y2="798.25" stroke="#e00000" stroke-width="1.8" />
<text x="618.8" y="651.09" font-family='"Liberation Serif", serif' font-size="11.8" font-weight="bold" font-style="normal" text-anchor="middle" fill="#111" >Alox-15</text>
<path d="M392.5 717V673.75H458.75V680.75" stroke="#111" stroke-width="1.7" fill="none" stroke-linecap="butt" stroke-linejoin="miter"/>
<path d="M464.25 680.75V673.75H497.5V745" stroke="#111" stroke-width="1.7" fill="none" stroke-linecap="butt" stroke-linejoin="miter"/>
<path d="M560.25 710V673.75H631.5V680" stroke="#111" stroke-width="1.7" fill="none" stroke-linecap="butt" stroke-linejoin="miter"/>
<path d="M636 680V673.75H665.25V738.75" stroke="#111" stroke-width="1.7" fill="none" stroke-linecap="butt" stroke-linejoin="miter"/>
<path d="M420.85 668.6L420.85 661.4M417.73 666.8L423.97 663.2M417.73 663.2L423.97 666.8" stroke="#111" stroke-width="1.75" stroke-linecap="round" fill="none"/>
<circle cx="420.85" cy="665" r="1.62" fill="#111"/>
<path d="M431.65 668.6L431.65 661.4M428.53 666.8L434.77 663.2M428.53 663.2L434.77 666.8" stroke="#111" stroke-width="1.75" stroke-linecap="round" fill="none"/>
<circle cx="431.65" cy="665" r="1.62" fill="#111"/>
<path d="M481.25 668.6L481.25 661.4M478.13 666.8L484.37 663.2M478.13 663.2L484.37 666.8" stroke="#111" stroke-width="1.75" stroke-linecap="round" fill="none"/>
<circle cx="481.25" cy="665" r="1.62" fill="#111"/>
<path d="M596 668.6L596 661.4M592.88 666.8L599.12 663.2M592.88 663.2L599.12 666.8" stroke="#111" stroke-width="1.75" stroke-linecap="round" fill="none"/>
<circle cx="596" cy="665" r="1.62" fill="#111"/>
<path d="M651 668.6L651 661.4M647.88 666.8L654.12 663.2M647.88 663.2L654.12 666.8" stroke="#111" stroke-width="1.75" stroke-linecap="round" fill="none"/>
<circle cx="651" cy="665" r="1.62" fill="#111"/>
<line x1="387.75" y1="844.07" x2="395.75" y2="844.07" stroke="#111" stroke-width="1.5" />
<line x1="391.75" y1="840.07" x2="391.75" y2="848.07" stroke="#111" stroke-width="1.5" />
<line x1="424" y1="844.43" x2="432" y2="844.43" stroke="#111" stroke-width="1.5" />
<line x1="428" y1="840.43" x2="428" y2="848.43" stroke="#111" stroke-width="1.5" />
<line x1="459" y1="844.78" x2="467" y2="844.78" stroke="#111" stroke-width="1.5" />
<line x1="494" y1="845.13" x2="502" y2="845.13" stroke="#111" stroke-width="1.5" />
<line x1="387.75" y1="857.57" x2="395.75" y2="857.57" stroke="#111" stroke-width="1.5" />
<line x1="424" y1="857.93" x2="432" y2="857.93" stroke="#111" stroke-width="1.5" />
<line x1="459" y1="858.28" x2="467" y2="858.28" stroke="#111" stroke-width="1.5" />
<line x1="463" y1="854.28" x2="463" y2="862.28" stroke="#111" stroke-width="1.5" />
<line x1="494" y1="858.63" x2="502" y2="858.63" stroke="#111" stroke-width="1.5" />
<line x1="498" y1="854.63" x2="498" y2="862.63" stroke="#111" stroke-width="1.5" />
<line x1="387.75" y1="871.87" x2="395.75" y2="871.87" stroke="#111" stroke-width="1.5" />
<line x1="391.75" y1="867.87" x2="391.75" y2="875.87" stroke="#111" stroke-width="1.5" />
<line x1="424" y1="872.23" x2="432" y2="872.23" stroke="#111" stroke-width="1.5" />
<line x1="459" y1="872.58" x2="467" y2="872.58" stroke="#111" stroke-width="1.5" />
<line x1="463" y1="868.58" x2="463" y2="876.58" stroke="#111" stroke-width="1.5" />
<line x1="494" y1="872.93" x2="502" y2="872.93" stroke="#111" stroke-width="1.5" />
<line x1="387.75" y1="886.37" x2="395.75" y2="886.37" stroke="#111" stroke-width="1.5" />
<line x1="424" y1="886.73" x2="432" y2="886.73" stroke="#111" stroke-width="1.5" />
<line x1="428" y1="882.73" x2="428" y2="890.73" stroke="#111" stroke-width="1.5" />
<line x1="459" y1="887.08" x2="467" y2="887.08" stroke="#111" stroke-width="1.5" />
<line x1="494" y1="887.43" x2="502" y2="887.43" stroke="#111" stroke-width="1.5" />
<line x1="498" y1="883.43" x2="498" y2="891.43" stroke="#111" stroke-width="1.5" />
<line x1="555.75" y1="844.06" x2="563.75" y2="844.06" stroke="#111" stroke-width="1.5" />
<line x1="559.75" y1="840.06" x2="559.75" y2="848.06" stroke="#111" stroke-width="1.5" />
<line x1="593.25" y1="844.43" x2="601.25" y2="844.43" stroke="#111" stroke-width="1.5" />
<line x1="597.25" y1="840.43" x2="597.25" y2="848.43" stroke="#111" stroke-width="1.5" />
<line x1="628" y1="844.78" x2="636" y2="844.78" stroke="#111" stroke-width="1.5" />
<line x1="663" y1="845.13" x2="671" y2="845.13" stroke="#111" stroke-width="1.5" />
<line x1="555.75" y1="857.56" x2="563.75" y2="857.56" stroke="#111" stroke-width="1.5" />
<line x1="593.25" y1="857.93" x2="601.25" y2="857.93" stroke="#111" stroke-width="1.5" />
<line x1="628" y1="858.28" x2="636" y2="858.28" stroke="#111" stroke-width="1.5" />
<line x1="632" y1="854.28" x2="632" y2="862.28" stroke="#111" stroke-width="1.5" />
<line x1="663" y1="858.63" x2="671" y2="858.63" stroke="#111" stroke-width="1.5" />
<line x1="667" y1="854.63" x2="667" y2="862.63" stroke="#111" stroke-width="1.5" />
<line x1="555.75" y1="871.86" x2="563.75" y2="871.86" stroke="#111" stroke-width="1.5" />
<line x1="559.75" y1="867.86" x2="559.75" y2="875.86" stroke="#111" stroke-width="1.5" />
<line x1="593.25" y1="872.23" x2="601.25" y2="872.23" stroke="#111" stroke-width="1.5" />
<line x1="628" y1="872.58" x2="636" y2="872.58" stroke="#111" stroke-width="1.5" />
<line x1="632" y1="868.58" x2="632" y2="876.58" stroke="#111" stroke-width="1.5" />
<line x1="663" y1="872.93" x2="671" y2="872.93" stroke="#111" stroke-width="1.5" />
<line x1="555.75" y1="886.36" x2="563.75" y2="886.36" stroke="#111" stroke-width="1.5" />
<line x1="593.25" y1="886.73" x2="601.25" y2="886.73" stroke="#111" stroke-width="1.5" />
<line x1="597.25" y1="882.73" x2="597.25" y2="890.73" stroke="#111" stroke-width="1.5" />
<line x1="628" y1="887.08" x2="636" y2="887.08" stroke="#111" stroke-width="1.5" />
<line x1="663" y1="887.43" x2="671" y2="887.43" stroke="#111" stroke-width="1.5" />
<line x1="667" y1="883.43" x2="667" y2="891.43" stroke="#111" stroke-width="1.5" />
<text x="346.4" y="849.43" font-family='"Liberation Serif", serif' font-size="11.3" font-weight="bold" font-style="normal" text-anchor="start" fill="#111" >ND</text>
<text x="346.4" y="863.23" font-family='"Liberation Serif", serif' font-size="11.3" font-weight="bold" font-style="normal" text-anchor="start" fill="#111" >D</text>
<text x="346.4" y="876.93" font-family='"Liberation Serif", serif' font-size="11.3" font-weight="bold" font-style="normal" text-anchor="start" fill="#111" >Veh</text>
<text x="346.4" y="890.33" font-family='"Liberation Serif", serif' font-size="11.3" font-weight="bold" font-style="normal" text-anchor="start" fill="#111" >LXA<tspan font-size="7.46" dy="3.39">4</tspan></text>
</svg>
</body></html>
